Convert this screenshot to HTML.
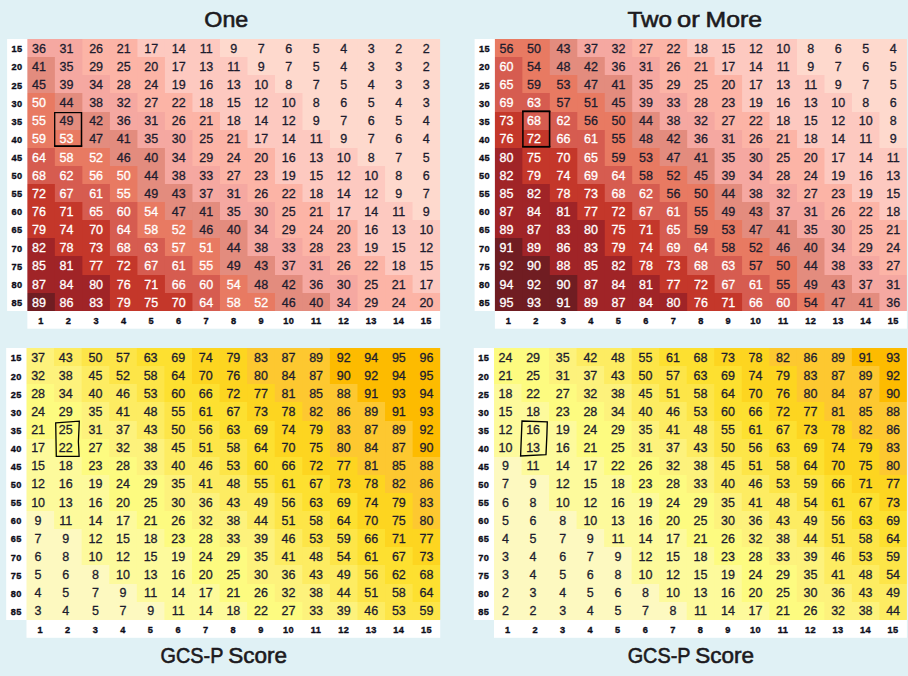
<!DOCTYPE html>
<html><head><meta charset="utf-8"><title>GCS-P Score heatmaps</title>
<style>
html,body{margin:0;padding:0;background:#e0f1f5;}
body{width:908px;height:676px;overflow:hidden;}
svg{display:block;}
text{font-family:"Liberation Sans",sans-serif;}
.n{font-size:12.5px;text-anchor:middle;fill:#1c1c2e;stroke:#1c1c2e;stroke-width:0.3px;}
.w{fill:#fff;stroke:#fff;}
.a{letter-spacing:0.4px;font-size:9.2px;font-weight:bold;text-anchor:middle;fill:#0c0c18;stroke:#0c0c18;stroke-width:0.35px;}
.t{font-size:22.4px;fill:#1c1a20;stroke:#1c1a20;stroke-width:0.6px;}
</style></head><body>
<svg width="908" height="676" viewBox="0 0 908 676">
<rect x="0" y="0" width="908" height="676" fill="#e0f1f5"/>

<rect x="7.1" y="39" width="21.25" height="272" fill="#fff"/>
<rect x="27.35" y="310" width="412.75" height="18.7" fill="#fff"/>
<g>
<rect x="27.35" y="39" width="28.52" height="18" fill="#f5a8a1"/>
<rect x="54.87" y="39" width="28.52" height="18" fill="#f5a8a1"/>
<rect x="82.38" y="39" width="28.52" height="18" fill="#fcb4a6"/>
<rect x="109.9" y="39" width="28.52" height="18" fill="#fcb4a6"/>
<rect x="137.42" y="39" width="28.52" height="18" fill="#fdc9c0"/>
<rect x="164.93" y="39" width="28.52" height="18" fill="#fdc9c0"/>
<rect x="192.45" y="39" width="28.52" height="18" fill="#fdc9c0"/>
<rect x="219.97" y="39" width="28.52" height="18" fill="#fed9cd"/>
<rect x="247.48" y="39" width="28.52" height="18" fill="#fed9cd"/>
<rect x="275" y="39" width="28.52" height="18" fill="#fed9cd"/>
<rect x="302.52" y="39" width="28.52" height="18" fill="#fed9cd"/>
<rect x="330.03" y="39" width="28.52" height="18" fill="#fed9cd"/>
<rect x="357.55" y="39" width="28.52" height="18" fill="#fed9cd"/>
<rect x="385.07" y="39" width="28.52" height="18" fill="#fed9cd"/>
<rect x="412.58" y="39" width="27.52" height="18" fill="#fed9cd"/>
<rect x="27.35" y="57" width="28.52" height="18" fill="#e38c7e"/>
<rect x="54.87" y="57" width="28.52" height="18" fill="#f5a8a1"/>
<rect x="82.38" y="57" width="28.52" height="18" fill="#fcb4a6"/>
<rect x="109.9" y="57" width="28.52" height="18" fill="#fcb4a6"/>
<rect x="137.42" y="57" width="28.52" height="18" fill="#fcb4a6"/>
<rect x="164.93" y="57" width="28.52" height="18" fill="#fdc9c0"/>
<rect x="192.45" y="57" width="28.52" height="18" fill="#fdc9c0"/>
<rect x="219.97" y="57" width="28.52" height="18" fill="#fdc9c0"/>
<rect x="247.48" y="57" width="28.52" height="18" fill="#fed9cd"/>
<rect x="275" y="57" width="28.52" height="18" fill="#fed9cd"/>
<rect x="302.52" y="57" width="28.52" height="18" fill="#fed9cd"/>
<rect x="330.03" y="57" width="28.52" height="18" fill="#fed9cd"/>
<rect x="357.55" y="57" width="28.52" height="18" fill="#fed9cd"/>
<rect x="385.07" y="57" width="28.52" height="18" fill="#fed9cd"/>
<rect x="412.58" y="57" width="27.52" height="18" fill="#fed9cd"/>
<rect x="27.35" y="75" width="28.52" height="18" fill="#e38c7e"/>
<rect x="54.87" y="75" width="28.52" height="18" fill="#f5a8a1"/>
<rect x="82.38" y="75" width="28.52" height="18" fill="#f5a8a1"/>
<rect x="109.9" y="75" width="28.52" height="18" fill="#fcb4a6"/>
<rect x="137.42" y="75" width="28.52" height="18" fill="#fcb4a6"/>
<rect x="164.93" y="75" width="28.52" height="18" fill="#fdc9c0"/>
<rect x="192.45" y="75" width="28.52" height="18" fill="#fdc9c0"/>
<rect x="219.97" y="75" width="28.52" height="18" fill="#fdc9c0"/>
<rect x="247.48" y="75" width="28.52" height="18" fill="#fdc9c0"/>
<rect x="275" y="75" width="28.52" height="18" fill="#fed9cd"/>
<rect x="302.52" y="75" width="28.52" height="18" fill="#fed9cd"/>
<rect x="330.03" y="75" width="28.52" height="18" fill="#fed9cd"/>
<rect x="357.55" y="75" width="28.52" height="18" fill="#fed9cd"/>
<rect x="385.07" y="75" width="28.52" height="18" fill="#fed9cd"/>
<rect x="412.58" y="75" width="27.52" height="18" fill="#fed9cd"/>
<rect x="27.35" y="93" width="28.52" height="19" fill="#e87a62"/>
<rect x="54.87" y="93" width="28.52" height="19" fill="#e38c7e"/>
<rect x="82.38" y="93" width="28.52" height="19" fill="#f5a8a1"/>
<rect x="109.9" y="93" width="28.52" height="19" fill="#f5a8a1"/>
<rect x="137.42" y="93" width="28.52" height="19" fill="#fcb4a6"/>
<rect x="164.93" y="93" width="28.52" height="19" fill="#fcb4a6"/>
<rect x="192.45" y="93" width="28.52" height="19" fill="#fdc9c0"/>
<rect x="219.97" y="93" width="28.52" height="19" fill="#fdc9c0"/>
<rect x="247.48" y="93" width="28.52" height="19" fill="#fdc9c0"/>
<rect x="275" y="93" width="28.52" height="19" fill="#fdc9c0"/>
<rect x="302.52" y="93" width="28.52" height="19" fill="#fed9cd"/>
<rect x="330.03" y="93" width="28.52" height="19" fill="#fed9cd"/>
<rect x="357.55" y="93" width="28.52" height="19" fill="#fed9cd"/>
<rect x="385.07" y="93" width="28.52" height="19" fill="#fed9cd"/>
<rect x="412.58" y="93" width="27.52" height="19" fill="#fed9cd"/>
<rect x="27.35" y="112" width="28.52" height="18" fill="#e87a62"/>
<rect x="54.87" y="112" width="28.52" height="18" fill="#e38c7e"/>
<rect x="82.38" y="112" width="28.52" height="18" fill="#e38c7e"/>
<rect x="109.9" y="112" width="28.52" height="18" fill="#f5a8a1"/>
<rect x="137.42" y="112" width="28.52" height="18" fill="#f5a8a1"/>
<rect x="164.93" y="112" width="28.52" height="18" fill="#fcb4a6"/>
<rect x="192.45" y="112" width="28.52" height="18" fill="#fcb4a6"/>
<rect x="219.97" y="112" width="28.52" height="18" fill="#fdc9c0"/>
<rect x="247.48" y="112" width="28.52" height="18" fill="#fdc9c0"/>
<rect x="275" y="112" width="28.52" height="18" fill="#fdc9c0"/>
<rect x="302.52" y="112" width="28.52" height="18" fill="#fed9cd"/>
<rect x="330.03" y="112" width="28.52" height="18" fill="#fed9cd"/>
<rect x="357.55" y="112" width="28.52" height="18" fill="#fed9cd"/>
<rect x="385.07" y="112" width="28.52" height="18" fill="#fed9cd"/>
<rect x="412.58" y="112" width="27.52" height="18" fill="#fed9cd"/>
<rect x="27.35" y="130" width="28.52" height="18" fill="#e87a62"/>
<rect x="54.87" y="130" width="28.52" height="18" fill="#e87a62"/>
<rect x="82.38" y="130" width="28.52" height="18" fill="#e38c7e"/>
<rect x="109.9" y="130" width="28.52" height="18" fill="#e38c7e"/>
<rect x="137.42" y="130" width="28.52" height="18" fill="#f5a8a1"/>
<rect x="164.93" y="130" width="28.52" height="18" fill="#f5a8a1"/>
<rect x="192.45" y="130" width="28.52" height="18" fill="#fcb4a6"/>
<rect x="219.97" y="130" width="28.52" height="18" fill="#fcb4a6"/>
<rect x="247.48" y="130" width="28.52" height="18" fill="#fdc9c0"/>
<rect x="275" y="130" width="28.52" height="18" fill="#fdc9c0"/>
<rect x="302.52" y="130" width="28.52" height="18" fill="#fdc9c0"/>
<rect x="330.03" y="130" width="28.52" height="18" fill="#fed9cd"/>
<rect x="357.55" y="130" width="28.52" height="18" fill="#fed9cd"/>
<rect x="385.07" y="130" width="28.52" height="18" fill="#fed9cd"/>
<rect x="412.58" y="130" width="27.52" height="18" fill="#fed9cd"/>
<rect x="27.35" y="148" width="28.52" height="18" fill="#d65c50"/>
<rect x="54.87" y="148" width="28.52" height="18" fill="#e87a62"/>
<rect x="82.38" y="148" width="28.52" height="18" fill="#e87a62"/>
<rect x="109.9" y="148" width="28.52" height="18" fill="#e38c7e"/>
<rect x="137.42" y="148" width="28.52" height="18" fill="#e38c7e"/>
<rect x="164.93" y="148" width="28.52" height="18" fill="#f5a8a1"/>
<rect x="192.45" y="148" width="28.52" height="18" fill="#fcb4a6"/>
<rect x="219.97" y="148" width="28.52" height="18" fill="#fcb4a6"/>
<rect x="247.48" y="148" width="28.52" height="18" fill="#fcb4a6"/>
<rect x="275" y="148" width="28.52" height="18" fill="#fdc9c0"/>
<rect x="302.52" y="148" width="28.52" height="18" fill="#fdc9c0"/>
<rect x="330.03" y="148" width="28.52" height="18" fill="#fdc9c0"/>
<rect x="357.55" y="148" width="28.52" height="18" fill="#fed9cd"/>
<rect x="385.07" y="148" width="28.52" height="18" fill="#fed9cd"/>
<rect x="412.58" y="148" width="27.52" height="18" fill="#fed9cd"/>
<rect x="27.35" y="166" width="28.52" height="18" fill="#d65c50"/>
<rect x="54.87" y="166" width="28.52" height="18" fill="#d65c50"/>
<rect x="82.38" y="166" width="28.52" height="18" fill="#e87a62"/>
<rect x="109.9" y="166" width="28.52" height="18" fill="#e87a62"/>
<rect x="137.42" y="166" width="28.52" height="18" fill="#e38c7e"/>
<rect x="164.93" y="166" width="28.52" height="18" fill="#f5a8a1"/>
<rect x="192.45" y="166" width="28.52" height="18" fill="#f5a8a1"/>
<rect x="219.97" y="166" width="28.52" height="18" fill="#fcb4a6"/>
<rect x="247.48" y="166" width="28.52" height="18" fill="#fcb4a6"/>
<rect x="275" y="166" width="28.52" height="18" fill="#fdc9c0"/>
<rect x="302.52" y="166" width="28.52" height="18" fill="#fdc9c0"/>
<rect x="330.03" y="166" width="28.52" height="18" fill="#fdc9c0"/>
<rect x="357.55" y="166" width="28.52" height="18" fill="#fdc9c0"/>
<rect x="385.07" y="166" width="28.52" height="18" fill="#fed9cd"/>
<rect x="412.58" y="166" width="27.52" height="18" fill="#fed9cd"/>
<rect x="27.35" y="184" width="28.52" height="18" fill="#c4372a"/>
<rect x="54.87" y="184" width="28.52" height="18" fill="#d65c50"/>
<rect x="82.38" y="184" width="28.52" height="18" fill="#d65c50"/>
<rect x="109.9" y="184" width="28.52" height="18" fill="#e87a62"/>
<rect x="137.42" y="184" width="28.52" height="18" fill="#e38c7e"/>
<rect x="164.93" y="184" width="28.52" height="18" fill="#e38c7e"/>
<rect x="192.45" y="184" width="28.52" height="18" fill="#f5a8a1"/>
<rect x="219.97" y="184" width="28.52" height="18" fill="#f5a8a1"/>
<rect x="247.48" y="184" width="28.52" height="18" fill="#fcb4a6"/>
<rect x="275" y="184" width="28.52" height="18" fill="#fcb4a6"/>
<rect x="302.52" y="184" width="28.52" height="18" fill="#fdc9c0"/>
<rect x="330.03" y="184" width="28.52" height="18" fill="#fdc9c0"/>
<rect x="357.55" y="184" width="28.52" height="18" fill="#fdc9c0"/>
<rect x="385.07" y="184" width="28.52" height="18" fill="#fed9cd"/>
<rect x="412.58" y="184" width="27.52" height="18" fill="#fed9cd"/>
<rect x="27.35" y="202" width="28.52" height="18" fill="#c4372a"/>
<rect x="54.87" y="202" width="28.52" height="18" fill="#c4372a"/>
<rect x="82.38" y="202" width="28.52" height="18" fill="#d65c50"/>
<rect x="109.9" y="202" width="28.52" height="18" fill="#d65c50"/>
<rect x="137.42" y="202" width="28.52" height="18" fill="#e87a62"/>
<rect x="164.93" y="202" width="28.52" height="18" fill="#e38c7e"/>
<rect x="192.45" y="202" width="28.52" height="18" fill="#e38c7e"/>
<rect x="219.97" y="202" width="28.52" height="18" fill="#f5a8a1"/>
<rect x="247.48" y="202" width="28.52" height="18" fill="#f5a8a1"/>
<rect x="275" y="202" width="28.52" height="18" fill="#fcb4a6"/>
<rect x="302.52" y="202" width="28.52" height="18" fill="#fcb4a6"/>
<rect x="330.03" y="202" width="28.52" height="18" fill="#fdc9c0"/>
<rect x="357.55" y="202" width="28.52" height="18" fill="#fdc9c0"/>
<rect x="385.07" y="202" width="28.52" height="18" fill="#fdc9c0"/>
<rect x="412.58" y="202" width="27.52" height="18" fill="#fed9cd"/>
<rect x="27.35" y="220" width="28.52" height="18" fill="#c4372a"/>
<rect x="54.87" y="220" width="28.52" height="18" fill="#c4372a"/>
<rect x="82.38" y="220" width="28.52" height="18" fill="#c4372a"/>
<rect x="109.9" y="220" width="28.52" height="18" fill="#d65c50"/>
<rect x="137.42" y="220" width="28.52" height="18" fill="#e87a62"/>
<rect x="164.93" y="220" width="28.52" height="18" fill="#e87a62"/>
<rect x="192.45" y="220" width="28.52" height="18" fill="#e38c7e"/>
<rect x="219.97" y="220" width="28.52" height="18" fill="#e38c7e"/>
<rect x="247.48" y="220" width="28.52" height="18" fill="#f5a8a1"/>
<rect x="275" y="220" width="28.52" height="18" fill="#fcb4a6"/>
<rect x="302.52" y="220" width="28.52" height="18" fill="#fcb4a6"/>
<rect x="330.03" y="220" width="28.52" height="18" fill="#fcb4a6"/>
<rect x="357.55" y="220" width="28.52" height="18" fill="#fdc9c0"/>
<rect x="385.07" y="220" width="28.52" height="18" fill="#fdc9c0"/>
<rect x="412.58" y="220" width="27.52" height="18" fill="#fdc9c0"/>
<rect x="27.35" y="238" width="28.52" height="18" fill="#a02427"/>
<rect x="54.87" y="238" width="28.52" height="18" fill="#c4372a"/>
<rect x="82.38" y="238" width="28.52" height="18" fill="#c4372a"/>
<rect x="109.9" y="238" width="28.52" height="18" fill="#d65c50"/>
<rect x="137.42" y="238" width="28.52" height="18" fill="#d65c50"/>
<rect x="164.93" y="238" width="28.52" height="18" fill="#e87a62"/>
<rect x="192.45" y="238" width="28.52" height="18" fill="#e87a62"/>
<rect x="219.97" y="238" width="28.52" height="18" fill="#e38c7e"/>
<rect x="247.48" y="238" width="28.52" height="18" fill="#f5a8a1"/>
<rect x="275" y="238" width="28.52" height="18" fill="#f5a8a1"/>
<rect x="302.52" y="238" width="28.52" height="18" fill="#fcb4a6"/>
<rect x="330.03" y="238" width="28.52" height="18" fill="#fcb4a6"/>
<rect x="357.55" y="238" width="28.52" height="18" fill="#fdc9c0"/>
<rect x="385.07" y="238" width="28.52" height="18" fill="#fdc9c0"/>
<rect x="412.58" y="238" width="27.52" height="18" fill="#fdc9c0"/>
<rect x="27.35" y="256" width="28.52" height="19" fill="#a02427"/>
<rect x="54.87" y="256" width="28.52" height="19" fill="#a02427"/>
<rect x="82.38" y="256" width="28.52" height="19" fill="#c4372a"/>
<rect x="109.9" y="256" width="28.52" height="19" fill="#c4372a"/>
<rect x="137.42" y="256" width="28.52" height="19" fill="#d65c50"/>
<rect x="164.93" y="256" width="28.52" height="19" fill="#d65c50"/>
<rect x="192.45" y="256" width="28.52" height="19" fill="#e87a62"/>
<rect x="219.97" y="256" width="28.52" height="19" fill="#e38c7e"/>
<rect x="247.48" y="256" width="28.52" height="19" fill="#e38c7e"/>
<rect x="275" y="256" width="28.52" height="19" fill="#f5a8a1"/>
<rect x="302.52" y="256" width="28.52" height="19" fill="#f5a8a1"/>
<rect x="330.03" y="256" width="28.52" height="19" fill="#fcb4a6"/>
<rect x="357.55" y="256" width="28.52" height="19" fill="#fcb4a6"/>
<rect x="385.07" y="256" width="28.52" height="19" fill="#fdc9c0"/>
<rect x="412.58" y="256" width="27.52" height="19" fill="#fdc9c0"/>
<rect x="27.35" y="275" width="28.52" height="18" fill="#a02427"/>
<rect x="54.87" y="275" width="28.52" height="18" fill="#a02427"/>
<rect x="82.38" y="275" width="28.52" height="18" fill="#a02427"/>
<rect x="109.9" y="275" width="28.52" height="18" fill="#c4372a"/>
<rect x="137.42" y="275" width="28.52" height="18" fill="#c4372a"/>
<rect x="164.93" y="275" width="28.52" height="18" fill="#d65c50"/>
<rect x="192.45" y="275" width="28.52" height="18" fill="#d65c50"/>
<rect x="219.97" y="275" width="28.52" height="18" fill="#e87a62"/>
<rect x="247.48" y="275" width="28.52" height="18" fill="#e38c7e"/>
<rect x="275" y="275" width="28.52" height="18" fill="#e38c7e"/>
<rect x="302.52" y="275" width="28.52" height="18" fill="#f5a8a1"/>
<rect x="330.03" y="275" width="28.52" height="18" fill="#f5a8a1"/>
<rect x="357.55" y="275" width="28.52" height="18" fill="#fcb4a6"/>
<rect x="385.07" y="275" width="28.52" height="18" fill="#fcb4a6"/>
<rect x="412.58" y="275" width="27.52" height="18" fill="#fdc9c0"/>
<rect x="27.35" y="293" width="28.52" height="18" fill="#701d22"/>
<rect x="54.87" y="293" width="28.52" height="18" fill="#a02427"/>
<rect x="82.38" y="293" width="28.52" height="18" fill="#a02427"/>
<rect x="109.9" y="293" width="28.52" height="18" fill="#c4372a"/>
<rect x="137.42" y="293" width="28.52" height="18" fill="#c4372a"/>
<rect x="164.93" y="293" width="28.52" height="18" fill="#c4372a"/>
<rect x="192.45" y="293" width="28.52" height="18" fill="#d65c50"/>
<rect x="219.97" y="293" width="28.52" height="18" fill="#e87a62"/>
<rect x="247.48" y="293" width="28.52" height="18" fill="#e87a62"/>
<rect x="275" y="293" width="28.52" height="18" fill="#e38c7e"/>
<rect x="302.52" y="293" width="28.52" height="18" fill="#e38c7e"/>
<rect x="330.03" y="293" width="28.52" height="18" fill="#f5a8a1"/>
<rect x="357.55" y="293" width="28.52" height="18" fill="#fcb4a6"/>
<rect x="385.07" y="293" width="28.52" height="18" fill="#fcb4a6"/>
<rect x="412.58" y="293" width="27.52" height="18" fill="#fcb4a6"/>
</g>
<text class="a" x="17.05" y="52.36">15</text>
<text class="n" x="38.91" y="52.66">36</text>
<text class="n" x="66.42" y="52.66">31</text>
<text class="n" x="96.14" y="52.66">26</text>
<text class="n" x="123.66" y="52.66">21</text>
<text class="n" x="151.17" y="52.66">17</text>
<text class="n" x="178.69" y="52.66">14</text>
<text class="n" x="206.21" y="52.66">11</text>
<text class="n" x="233.72" y="52.66">9</text>
<text class="n" x="261.24" y="52.66">7</text>
<text class="n" x="288.76" y="52.66">6</text>
<text class="n" x="316.28" y="52.66">5</text>
<text class="n" x="343.79" y="52.66">4</text>
<text class="n" x="371.31" y="52.66">3</text>
<text class="n" x="398.82" y="52.66">2</text>
<text class="n" x="426.34" y="52.66">2</text>
<text class="a" x="17.05" y="70.47">20</text>
<text class="n" x="38.91" y="70.8">41</text>
<text class="n" x="66.42" y="70.8">35</text>
<text class="n" x="96.14" y="70.8">29</text>
<text class="n" x="123.66" y="70.8">25</text>
<text class="n" x="151.17" y="70.8">20</text>
<text class="n" x="178.69" y="70.8">17</text>
<text class="n" x="206.21" y="70.8">13</text>
<text class="n" x="233.72" y="70.8">11</text>
<text class="n" x="261.24" y="70.8">9</text>
<text class="n" x="288.76" y="70.8">7</text>
<text class="n" x="316.28" y="70.8">5</text>
<text class="n" x="343.79" y="70.8">4</text>
<text class="n" x="371.31" y="70.8">3</text>
<text class="n" x="398.82" y="70.8">3</text>
<text class="n" x="426.34" y="70.8">2</text>
<text class="a" x="17.05" y="88.58">25</text>
<text class="n" x="38.91" y="88.94">45</text>
<text class="n" x="66.42" y="88.94">39</text>
<text class="n" x="96.14" y="88.94">34</text>
<text class="n" x="123.66" y="88.94">28</text>
<text class="n" x="151.17" y="88.94">24</text>
<text class="n" x="178.69" y="88.94">19</text>
<text class="n" x="206.21" y="88.94">16</text>
<text class="n" x="233.72" y="88.94">13</text>
<text class="n" x="261.24" y="88.94">10</text>
<text class="n" x="288.76" y="88.94">8</text>
<text class="n" x="316.28" y="88.94">7</text>
<text class="n" x="343.79" y="88.94">5</text>
<text class="n" x="371.31" y="88.94">4</text>
<text class="n" x="398.82" y="88.94">3</text>
<text class="n" x="426.34" y="88.94">3</text>
<text class="a" x="17.05" y="106.7">30</text>
<text class="n w" x="38.91" y="107.09">50</text>
<text class="n" x="66.42" y="107.09">44</text>
<text class="n" x="96.14" y="107.09">38</text>
<text class="n" x="123.66" y="107.09">32</text>
<text class="n" x="151.17" y="107.09">27</text>
<text class="n" x="178.69" y="107.09">22</text>
<text class="n" x="206.21" y="107.09">18</text>
<text class="n" x="233.72" y="107.09">15</text>
<text class="n" x="261.24" y="107.09">12</text>
<text class="n" x="288.76" y="107.09">10</text>
<text class="n" x="316.28" y="107.09">8</text>
<text class="n" x="343.79" y="107.09">6</text>
<text class="n" x="371.31" y="107.09">5</text>
<text class="n" x="398.82" y="107.09">4</text>
<text class="n" x="426.34" y="107.09">3</text>
<text class="a" x="17.05" y="124.81">35</text>
<text class="n w" x="38.91" y="125.23">55</text>
<text class="n" x="66.42" y="125.23">49</text>
<text class="n" x="96.14" y="125.23">42</text>
<text class="n" x="123.66" y="125.23">36</text>
<text class="n" x="151.17" y="125.23">31</text>
<text class="n" x="178.69" y="125.23">26</text>
<text class="n" x="206.21" y="125.23">21</text>
<text class="n" x="233.72" y="125.23">18</text>
<text class="n" x="261.24" y="125.23">14</text>
<text class="n" x="288.76" y="125.23">12</text>
<text class="n" x="316.28" y="125.23">9</text>
<text class="n" x="343.79" y="125.23">7</text>
<text class="n" x="371.31" y="125.23">6</text>
<text class="n" x="398.82" y="125.23">5</text>
<text class="n" x="426.34" y="125.23">4</text>
<text class="a" x="17.05" y="142.92">40</text>
<text class="n w" x="38.91" y="143.37">59</text>
<text class="n w" x="66.42" y="143.37">53</text>
<text class="n" x="96.14" y="143.37">47</text>
<text class="n" x="123.66" y="143.37">41</text>
<text class="n" x="151.17" y="143.37">35</text>
<text class="n" x="178.69" y="143.37">30</text>
<text class="n" x="206.21" y="143.37">25</text>
<text class="n" x="233.72" y="143.37">21</text>
<text class="n" x="261.24" y="143.37">17</text>
<text class="n" x="288.76" y="143.37">14</text>
<text class="n" x="316.28" y="143.37">11</text>
<text class="n" x="343.79" y="143.37">9</text>
<text class="n" x="371.31" y="143.37">7</text>
<text class="n" x="398.82" y="143.37">6</text>
<text class="n" x="426.34" y="143.37">4</text>
<text class="a" x="17.05" y="161.04">45</text>
<text class="n w" x="38.91" y="161.52">64</text>
<text class="n w" x="66.42" y="161.52">58</text>
<text class="n w" x="96.14" y="161.52">52</text>
<text class="n" x="123.66" y="161.52">46</text>
<text class="n" x="151.17" y="161.52">40</text>
<text class="n" x="178.69" y="161.52">34</text>
<text class="n" x="206.21" y="161.52">29</text>
<text class="n" x="233.72" y="161.52">24</text>
<text class="n" x="261.24" y="161.52">20</text>
<text class="n" x="288.76" y="161.52">16</text>
<text class="n" x="316.28" y="161.52">13</text>
<text class="n" x="343.79" y="161.52">10</text>
<text class="n" x="371.31" y="161.52">8</text>
<text class="n" x="398.82" y="161.52">7</text>
<text class="n" x="426.34" y="161.52">5</text>
<text class="a" x="17.05" y="179.15">50</text>
<text class="n w" x="38.91" y="179.66">68</text>
<text class="n w" x="66.42" y="179.66">62</text>
<text class="n w" x="96.14" y="179.66">56</text>
<text class="n w" x="123.66" y="179.66">50</text>
<text class="n" x="151.17" y="179.66">44</text>
<text class="n" x="178.69" y="179.66">38</text>
<text class="n" x="206.21" y="179.66">33</text>
<text class="n" x="233.72" y="179.66">27</text>
<text class="n" x="261.24" y="179.66">23</text>
<text class="n" x="288.76" y="179.66">19</text>
<text class="n" x="316.28" y="179.66">15</text>
<text class="n" x="343.79" y="179.66">12</text>
<text class="n" x="371.31" y="179.66">10</text>
<text class="n" x="398.82" y="179.66">8</text>
<text class="n" x="426.34" y="179.66">6</text>
<text class="a" x="17.05" y="197.26">55</text>
<text class="n w" x="38.91" y="197.8">72</text>
<text class="n w" x="66.42" y="197.8">67</text>
<text class="n w" x="96.14" y="197.8">61</text>
<text class="n w" x="123.66" y="197.8">55</text>
<text class="n" x="151.17" y="197.8">49</text>
<text class="n" x="178.69" y="197.8">43</text>
<text class="n" x="206.21" y="197.8">37</text>
<text class="n" x="233.72" y="197.8">31</text>
<text class="n" x="261.24" y="197.8">26</text>
<text class="n" x="288.76" y="197.8">22</text>
<text class="n" x="316.28" y="197.8">18</text>
<text class="n" x="343.79" y="197.8">14</text>
<text class="n" x="371.31" y="197.8">12</text>
<text class="n" x="398.82" y="197.8">9</text>
<text class="n" x="426.34" y="197.8">7</text>
<text class="a" x="17.05" y="215.38">60</text>
<text class="n w" x="38.91" y="215.95">76</text>
<text class="n w" x="66.42" y="215.95">71</text>
<text class="n w" x="96.14" y="215.95">65</text>
<text class="n w" x="123.66" y="215.95">60</text>
<text class="n w" x="151.17" y="215.95">54</text>
<text class="n" x="178.69" y="215.95">47</text>
<text class="n" x="206.21" y="215.95">41</text>
<text class="n" x="233.72" y="215.95">35</text>
<text class="n" x="261.24" y="215.95">30</text>
<text class="n" x="288.76" y="215.95">25</text>
<text class="n" x="316.28" y="215.95">21</text>
<text class="n" x="343.79" y="215.95">17</text>
<text class="n" x="371.31" y="215.95">14</text>
<text class="n" x="398.82" y="215.95">11</text>
<text class="n" x="426.34" y="215.95">9</text>
<text class="a" x="17.05" y="233.49">65</text>
<text class="n w" x="38.91" y="234.09">79</text>
<text class="n w" x="66.42" y="234.09">74</text>
<text class="n w" x="96.14" y="234.09">70</text>
<text class="n w" x="123.66" y="234.09">64</text>
<text class="n w" x="151.17" y="234.09">58</text>
<text class="n w" x="178.69" y="234.09">52</text>
<text class="n" x="206.21" y="234.09">46</text>
<text class="n" x="233.72" y="234.09">40</text>
<text class="n" x="261.24" y="234.09">34</text>
<text class="n" x="288.76" y="234.09">29</text>
<text class="n" x="316.28" y="234.09">24</text>
<text class="n" x="343.79" y="234.09">20</text>
<text class="n" x="371.31" y="234.09">16</text>
<text class="n" x="398.82" y="234.09">13</text>
<text class="n" x="426.34" y="234.09">10</text>
<text class="a" x="17.05" y="251.6">70</text>
<text class="n w" x="38.91" y="252.23">82</text>
<text class="n w" x="66.42" y="252.23">78</text>
<text class="n w" x="96.14" y="252.23">73</text>
<text class="n w" x="123.66" y="252.23">68</text>
<text class="n w" x="151.17" y="252.23">63</text>
<text class="n w" x="178.69" y="252.23">57</text>
<text class="n w" x="206.21" y="252.23">51</text>
<text class="n" x="233.72" y="252.23">44</text>
<text class="n" x="261.24" y="252.23">38</text>
<text class="n" x="288.76" y="252.23">33</text>
<text class="n" x="316.28" y="252.23">28</text>
<text class="n" x="343.79" y="252.23">23</text>
<text class="n" x="371.31" y="252.23">19</text>
<text class="n" x="398.82" y="252.23">15</text>
<text class="n" x="426.34" y="252.23">12</text>
<text class="a" x="17.05" y="269.72">75</text>
<text class="n w" x="38.91" y="270.38">85</text>
<text class="n w" x="66.42" y="270.38">81</text>
<text class="n w" x="96.14" y="270.38">77</text>
<text class="n w" x="123.66" y="270.38">72</text>
<text class="n w" x="151.17" y="270.38">67</text>
<text class="n w" x="178.69" y="270.38">61</text>
<text class="n w" x="206.21" y="270.38">55</text>
<text class="n" x="233.72" y="270.38">49</text>
<text class="n" x="261.24" y="270.38">43</text>
<text class="n" x="288.76" y="270.38">37</text>
<text class="n" x="316.28" y="270.38">31</text>
<text class="n" x="343.79" y="270.38">26</text>
<text class="n" x="371.31" y="270.38">22</text>
<text class="n" x="398.82" y="270.38">18</text>
<text class="n" x="426.34" y="270.38">15</text>
<text class="a" x="17.05" y="287.83">80</text>
<text class="n w" x="38.91" y="288.52">87</text>
<text class="n w" x="66.42" y="288.52">84</text>
<text class="n w" x="96.14" y="288.52">80</text>
<text class="n w" x="123.66" y="288.52">76</text>
<text class="n w" x="151.17" y="288.52">71</text>
<text class="n w" x="178.69" y="288.52">66</text>
<text class="n w" x="206.21" y="288.52">60</text>
<text class="n w" x="233.72" y="288.52">54</text>
<text class="n" x="261.24" y="288.52">48</text>
<text class="n" x="288.76" y="288.52">42</text>
<text class="n" x="316.28" y="288.52">36</text>
<text class="n" x="343.79" y="288.52">30</text>
<text class="n" x="371.31" y="288.52">25</text>
<text class="n" x="398.82" y="288.52">21</text>
<text class="n" x="426.34" y="288.52">17</text>
<text class="a" x="17.05" y="305.94">85</text>
<text class="n w" x="38.91" y="306.66">89</text>
<text class="n w" x="66.42" y="306.66">86</text>
<text class="n w" x="96.14" y="306.66">83</text>
<text class="n w" x="123.66" y="306.66">79</text>
<text class="n w" x="151.17" y="306.66">75</text>
<text class="n w" x="178.69" y="306.66">70</text>
<text class="n w" x="206.21" y="306.66">64</text>
<text class="n w" x="233.72" y="306.66">58</text>
<text class="n w" x="261.24" y="306.66">52</text>
<text class="n" x="288.76" y="306.66">46</text>
<text class="n" x="316.28" y="306.66">40</text>
<text class="n" x="343.79" y="306.66">34</text>
<text class="n" x="371.31" y="306.66">29</text>
<text class="n" x="398.82" y="306.66">24</text>
<text class="n" x="426.34" y="306.66">20</text>
<text class="a" x="41.11" y="323.8">1</text>
<text class="a" x="68.62" y="323.8">2</text>
<text class="a" x="96.14" y="323.8">3</text>
<text class="a" x="123.66" y="323.8">4</text>
<text class="a" x="151.17" y="323.8">5</text>
<text class="a" x="178.69" y="323.8">6</text>
<text class="a" x="206.21" y="323.8">7</text>
<text class="a" x="233.72" y="323.8">8</text>
<text class="a" x="261.24" y="323.8">9</text>
<text class="a" x="288.76" y="323.8">10</text>
<text class="a" x="316.28" y="323.8">11</text>
<text class="a" x="343.79" y="323.8">12</text>
<text class="a" x="371.31" y="323.8">13</text>
<text class="a" x="398.82" y="323.8">14</text>
<text class="a" x="426.34" y="323.8">15</text>
<g fill="none" stroke="#000" stroke-linejoin="miter"><path d="M54.7 112.6H81.6" stroke-width="1.2"/><path d="M54.7 112V146.6" stroke-width="1.3"/><path d="M81.5 112V146.6" stroke-width="1.5"/><path d="M54.1 146.1H82.2" stroke-width="1.8"/></g>
<rect x="474.6" y="39" width="21.3" height="272" fill="#fff"/>
<rect x="494.9" y="310" width="412" height="18.7" fill="#fff"/>
<g>
<rect x="494.9" y="39" width="28.47" height="18" fill="#e87a62"/>
<rect x="522.37" y="39" width="28.47" height="18" fill="#e87a62"/>
<rect x="549.83" y="39" width="28.47" height="18" fill="#e38c7e"/>
<rect x="577.3" y="39" width="28.47" height="18" fill="#f5a8a1"/>
<rect x="604.77" y="39" width="28.47" height="18" fill="#f5a8a1"/>
<rect x="632.23" y="39" width="28.47" height="18" fill="#fcb4a6"/>
<rect x="659.7" y="39" width="28.47" height="18" fill="#fcb4a6"/>
<rect x="687.17" y="39" width="28.47" height="18" fill="#fdc9c0"/>
<rect x="714.63" y="39" width="28.47" height="18" fill="#fdc9c0"/>
<rect x="742.1" y="39" width="28.47" height="18" fill="#fdc9c0"/>
<rect x="769.57" y="39" width="28.47" height="18" fill="#fdc9c0"/>
<rect x="797.03" y="39" width="28.47" height="18" fill="#fed9cd"/>
<rect x="824.5" y="39" width="28.47" height="18" fill="#fed9cd"/>
<rect x="851.97" y="39" width="28.47" height="18" fill="#fed9cd"/>
<rect x="879.43" y="39" width="27.47" height="18" fill="#fed9cd"/>
<rect x="494.9" y="57" width="28.47" height="18" fill="#d65c50"/>
<rect x="522.37" y="57" width="28.47" height="18" fill="#e87a62"/>
<rect x="549.83" y="57" width="28.47" height="18" fill="#e38c7e"/>
<rect x="577.3" y="57" width="28.47" height="18" fill="#e38c7e"/>
<rect x="604.77" y="57" width="28.47" height="18" fill="#f5a8a1"/>
<rect x="632.23" y="57" width="28.47" height="18" fill="#f5a8a1"/>
<rect x="659.7" y="57" width="28.47" height="18" fill="#fcb4a6"/>
<rect x="687.17" y="57" width="28.47" height="18" fill="#fcb4a6"/>
<rect x="714.63" y="57" width="28.47" height="18" fill="#fdc9c0"/>
<rect x="742.1" y="57" width="28.47" height="18" fill="#fdc9c0"/>
<rect x="769.57" y="57" width="28.47" height="18" fill="#fdc9c0"/>
<rect x="797.03" y="57" width="28.47" height="18" fill="#fed9cd"/>
<rect x="824.5" y="57" width="28.47" height="18" fill="#fed9cd"/>
<rect x="851.97" y="57" width="28.47" height="18" fill="#fed9cd"/>
<rect x="879.43" y="57" width="27.47" height="18" fill="#fed9cd"/>
<rect x="494.9" y="75" width="28.47" height="18" fill="#d65c50"/>
<rect x="522.37" y="75" width="28.47" height="18" fill="#e87a62"/>
<rect x="549.83" y="75" width="28.47" height="18" fill="#e87a62"/>
<rect x="577.3" y="75" width="28.47" height="18" fill="#e38c7e"/>
<rect x="604.77" y="75" width="28.47" height="18" fill="#e38c7e"/>
<rect x="632.23" y="75" width="28.47" height="18" fill="#f5a8a1"/>
<rect x="659.7" y="75" width="28.47" height="18" fill="#fcb4a6"/>
<rect x="687.17" y="75" width="28.47" height="18" fill="#fcb4a6"/>
<rect x="714.63" y="75" width="28.47" height="18" fill="#fcb4a6"/>
<rect x="742.1" y="75" width="28.47" height="18" fill="#fdc9c0"/>
<rect x="769.57" y="75" width="28.47" height="18" fill="#fdc9c0"/>
<rect x="797.03" y="75" width="28.47" height="18" fill="#fdc9c0"/>
<rect x="824.5" y="75" width="28.47" height="18" fill="#fed9cd"/>
<rect x="851.97" y="75" width="28.47" height="18" fill="#fed9cd"/>
<rect x="879.43" y="75" width="27.47" height="18" fill="#fed9cd"/>
<rect x="494.9" y="93" width="28.47" height="19" fill="#d65c50"/>
<rect x="522.37" y="93" width="28.47" height="19" fill="#d65c50"/>
<rect x="549.83" y="93" width="28.47" height="19" fill="#e87a62"/>
<rect x="577.3" y="93" width="28.47" height="19" fill="#e87a62"/>
<rect x="604.77" y="93" width="28.47" height="19" fill="#e38c7e"/>
<rect x="632.23" y="93" width="28.47" height="19" fill="#f5a8a1"/>
<rect x="659.7" y="93" width="28.47" height="19" fill="#f5a8a1"/>
<rect x="687.17" y="93" width="28.47" height="19" fill="#fcb4a6"/>
<rect x="714.63" y="93" width="28.47" height="19" fill="#fcb4a6"/>
<rect x="742.1" y="93" width="28.47" height="19" fill="#fdc9c0"/>
<rect x="769.57" y="93" width="28.47" height="19" fill="#fdc9c0"/>
<rect x="797.03" y="93" width="28.47" height="19" fill="#fdc9c0"/>
<rect x="824.5" y="93" width="28.47" height="19" fill="#fdc9c0"/>
<rect x="851.97" y="93" width="28.47" height="19" fill="#fed9cd"/>
<rect x="879.43" y="93" width="27.47" height="19" fill="#fed9cd"/>
<rect x="494.9" y="112" width="28.47" height="18" fill="#c4372a"/>
<rect x="522.37" y="112" width="28.47" height="18" fill="#d65c50"/>
<rect x="549.83" y="112" width="28.47" height="18" fill="#d65c50"/>
<rect x="577.3" y="112" width="28.47" height="18" fill="#e87a62"/>
<rect x="604.77" y="112" width="28.47" height="18" fill="#e87a62"/>
<rect x="632.23" y="112" width="28.47" height="18" fill="#e38c7e"/>
<rect x="659.7" y="112" width="28.47" height="18" fill="#f5a8a1"/>
<rect x="687.17" y="112" width="28.47" height="18" fill="#f5a8a1"/>
<rect x="714.63" y="112" width="28.47" height="18" fill="#fcb4a6"/>
<rect x="742.1" y="112" width="28.47" height="18" fill="#fcb4a6"/>
<rect x="769.57" y="112" width="28.47" height="18" fill="#fdc9c0"/>
<rect x="797.03" y="112" width="28.47" height="18" fill="#fdc9c0"/>
<rect x="824.5" y="112" width="28.47" height="18" fill="#fdc9c0"/>
<rect x="851.97" y="112" width="28.47" height="18" fill="#fdc9c0"/>
<rect x="879.43" y="112" width="27.47" height="18" fill="#fed9cd"/>
<rect x="494.9" y="130" width="28.47" height="18" fill="#c4372a"/>
<rect x="522.37" y="130" width="28.47" height="18" fill="#c4372a"/>
<rect x="549.83" y="130" width="28.47" height="18" fill="#d65c50"/>
<rect x="577.3" y="130" width="28.47" height="18" fill="#d65c50"/>
<rect x="604.77" y="130" width="28.47" height="18" fill="#e87a62"/>
<rect x="632.23" y="130" width="28.47" height="18" fill="#e38c7e"/>
<rect x="659.7" y="130" width="28.47" height="18" fill="#e38c7e"/>
<rect x="687.17" y="130" width="28.47" height="18" fill="#f5a8a1"/>
<rect x="714.63" y="130" width="28.47" height="18" fill="#f5a8a1"/>
<rect x="742.1" y="130" width="28.47" height="18" fill="#fcb4a6"/>
<rect x="769.57" y="130" width="28.47" height="18" fill="#fcb4a6"/>
<rect x="797.03" y="130" width="28.47" height="18" fill="#fdc9c0"/>
<rect x="824.5" y="130" width="28.47" height="18" fill="#fdc9c0"/>
<rect x="851.97" y="130" width="28.47" height="18" fill="#fdc9c0"/>
<rect x="879.43" y="130" width="27.47" height="18" fill="#fed9cd"/>
<rect x="494.9" y="148" width="28.47" height="18" fill="#a02427"/>
<rect x="522.37" y="148" width="28.47" height="18" fill="#c4372a"/>
<rect x="549.83" y="148" width="28.47" height="18" fill="#c4372a"/>
<rect x="577.3" y="148" width="28.47" height="18" fill="#d65c50"/>
<rect x="604.77" y="148" width="28.47" height="18" fill="#e87a62"/>
<rect x="632.23" y="148" width="28.47" height="18" fill="#e87a62"/>
<rect x="659.7" y="148" width="28.47" height="18" fill="#e38c7e"/>
<rect x="687.17" y="148" width="28.47" height="18" fill="#e38c7e"/>
<rect x="714.63" y="148" width="28.47" height="18" fill="#f5a8a1"/>
<rect x="742.1" y="148" width="28.47" height="18" fill="#f5a8a1"/>
<rect x="769.57" y="148" width="28.47" height="18" fill="#fcb4a6"/>
<rect x="797.03" y="148" width="28.47" height="18" fill="#fcb4a6"/>
<rect x="824.5" y="148" width="28.47" height="18" fill="#fdc9c0"/>
<rect x="851.97" y="148" width="28.47" height="18" fill="#fdc9c0"/>
<rect x="879.43" y="148" width="27.47" height="18" fill="#fdc9c0"/>
<rect x="494.9" y="166" width="28.47" height="18" fill="#a02427"/>
<rect x="522.37" y="166" width="28.47" height="18" fill="#c4372a"/>
<rect x="549.83" y="166" width="28.47" height="18" fill="#c4372a"/>
<rect x="577.3" y="166" width="28.47" height="18" fill="#d65c50"/>
<rect x="604.77" y="166" width="28.47" height="18" fill="#d65c50"/>
<rect x="632.23" y="166" width="28.47" height="18" fill="#e87a62"/>
<rect x="659.7" y="166" width="28.47" height="18" fill="#e87a62"/>
<rect x="687.17" y="166" width="28.47" height="18" fill="#e38c7e"/>
<rect x="714.63" y="166" width="28.47" height="18" fill="#f5a8a1"/>
<rect x="742.1" y="166" width="28.47" height="18" fill="#f5a8a1"/>
<rect x="769.57" y="166" width="28.47" height="18" fill="#fcb4a6"/>
<rect x="797.03" y="166" width="28.47" height="18" fill="#fcb4a6"/>
<rect x="824.5" y="166" width="28.47" height="18" fill="#fdc9c0"/>
<rect x="851.97" y="166" width="28.47" height="18" fill="#fdc9c0"/>
<rect x="879.43" y="166" width="27.47" height="18" fill="#fdc9c0"/>
<rect x="494.9" y="184" width="28.47" height="18" fill="#a02427"/>
<rect x="522.37" y="184" width="28.47" height="18" fill="#a02427"/>
<rect x="549.83" y="184" width="28.47" height="18" fill="#c4372a"/>
<rect x="577.3" y="184" width="28.47" height="18" fill="#c4372a"/>
<rect x="604.77" y="184" width="28.47" height="18" fill="#d65c50"/>
<rect x="632.23" y="184" width="28.47" height="18" fill="#d65c50"/>
<rect x="659.7" y="184" width="28.47" height="18" fill="#e87a62"/>
<rect x="687.17" y="184" width="28.47" height="18" fill="#e87a62"/>
<rect x="714.63" y="184" width="28.47" height="18" fill="#e38c7e"/>
<rect x="742.1" y="184" width="28.47" height="18" fill="#f5a8a1"/>
<rect x="769.57" y="184" width="28.47" height="18" fill="#f5a8a1"/>
<rect x="797.03" y="184" width="28.47" height="18" fill="#fcb4a6"/>
<rect x="824.5" y="184" width="28.47" height="18" fill="#fcb4a6"/>
<rect x="851.97" y="184" width="28.47" height="18" fill="#fdc9c0"/>
<rect x="879.43" y="184" width="27.47" height="18" fill="#fdc9c0"/>
<rect x="494.9" y="202" width="28.47" height="18" fill="#a02427"/>
<rect x="522.37" y="202" width="28.47" height="18" fill="#a02427"/>
<rect x="549.83" y="202" width="28.47" height="18" fill="#a02427"/>
<rect x="577.3" y="202" width="28.47" height="18" fill="#c4372a"/>
<rect x="604.77" y="202" width="28.47" height="18" fill="#c4372a"/>
<rect x="632.23" y="202" width="28.47" height="18" fill="#d65c50"/>
<rect x="659.7" y="202" width="28.47" height="18" fill="#d65c50"/>
<rect x="687.17" y="202" width="28.47" height="18" fill="#e87a62"/>
<rect x="714.63" y="202" width="28.47" height="18" fill="#e38c7e"/>
<rect x="742.1" y="202" width="28.47" height="18" fill="#e38c7e"/>
<rect x="769.57" y="202" width="28.47" height="18" fill="#f5a8a1"/>
<rect x="797.03" y="202" width="28.47" height="18" fill="#f5a8a1"/>
<rect x="824.5" y="202" width="28.47" height="18" fill="#fcb4a6"/>
<rect x="851.97" y="202" width="28.47" height="18" fill="#fcb4a6"/>
<rect x="879.43" y="202" width="27.47" height="18" fill="#fdc9c0"/>
<rect x="494.9" y="220" width="28.47" height="18" fill="#a02427"/>
<rect x="522.37" y="220" width="28.47" height="18" fill="#a02427"/>
<rect x="549.83" y="220" width="28.47" height="18" fill="#a02427"/>
<rect x="577.3" y="220" width="28.47" height="18" fill="#a02427"/>
<rect x="604.77" y="220" width="28.47" height="18" fill="#c4372a"/>
<rect x="632.23" y="220" width="28.47" height="18" fill="#c4372a"/>
<rect x="659.7" y="220" width="28.47" height="18" fill="#d65c50"/>
<rect x="687.17" y="220" width="28.47" height="18" fill="#e87a62"/>
<rect x="714.63" y="220" width="28.47" height="18" fill="#e87a62"/>
<rect x="742.1" y="220" width="28.47" height="18" fill="#e38c7e"/>
<rect x="769.57" y="220" width="28.47" height="18" fill="#e38c7e"/>
<rect x="797.03" y="220" width="28.47" height="18" fill="#f5a8a1"/>
<rect x="824.5" y="220" width="28.47" height="18" fill="#f5a8a1"/>
<rect x="851.97" y="220" width="28.47" height="18" fill="#fcb4a6"/>
<rect x="879.43" y="220" width="27.47" height="18" fill="#fcb4a6"/>
<rect x="494.9" y="238" width="28.47" height="18" fill="#701d22"/>
<rect x="522.37" y="238" width="28.47" height="18" fill="#a02427"/>
<rect x="549.83" y="238" width="28.47" height="18" fill="#a02427"/>
<rect x="577.3" y="238" width="28.47" height="18" fill="#a02427"/>
<rect x="604.77" y="238" width="28.47" height="18" fill="#c4372a"/>
<rect x="632.23" y="238" width="28.47" height="18" fill="#c4372a"/>
<rect x="659.7" y="238" width="28.47" height="18" fill="#d65c50"/>
<rect x="687.17" y="238" width="28.47" height="18" fill="#d65c50"/>
<rect x="714.63" y="238" width="28.47" height="18" fill="#e87a62"/>
<rect x="742.1" y="238" width="28.47" height="18" fill="#e87a62"/>
<rect x="769.57" y="238" width="28.47" height="18" fill="#e38c7e"/>
<rect x="797.03" y="238" width="28.47" height="18" fill="#e38c7e"/>
<rect x="824.5" y="238" width="28.47" height="18" fill="#f5a8a1"/>
<rect x="851.97" y="238" width="28.47" height="18" fill="#fcb4a6"/>
<rect x="879.43" y="238" width="27.47" height="18" fill="#fcb4a6"/>
<rect x="494.9" y="256" width="28.47" height="19" fill="#701d22"/>
<rect x="522.37" y="256" width="28.47" height="19" fill="#701d22"/>
<rect x="549.83" y="256" width="28.47" height="19" fill="#a02427"/>
<rect x="577.3" y="256" width="28.47" height="19" fill="#a02427"/>
<rect x="604.77" y="256" width="28.47" height="19" fill="#a02427"/>
<rect x="632.23" y="256" width="28.47" height="19" fill="#c4372a"/>
<rect x="659.7" y="256" width="28.47" height="19" fill="#c4372a"/>
<rect x="687.17" y="256" width="28.47" height="19" fill="#d65c50"/>
<rect x="714.63" y="256" width="28.47" height="19" fill="#d65c50"/>
<rect x="742.1" y="256" width="28.47" height="19" fill="#e87a62"/>
<rect x="769.57" y="256" width="28.47" height="19" fill="#e87a62"/>
<rect x="797.03" y="256" width="28.47" height="19" fill="#e38c7e"/>
<rect x="824.5" y="256" width="28.47" height="19" fill="#f5a8a1"/>
<rect x="851.97" y="256" width="28.47" height="19" fill="#f5a8a1"/>
<rect x="879.43" y="256" width="27.47" height="19" fill="#fcb4a6"/>
<rect x="494.9" y="275" width="28.47" height="18" fill="#701d22"/>
<rect x="522.37" y="275" width="28.47" height="18" fill="#701d22"/>
<rect x="549.83" y="275" width="28.47" height="18" fill="#701d22"/>
<rect x="577.3" y="275" width="28.47" height="18" fill="#a02427"/>
<rect x="604.77" y="275" width="28.47" height="18" fill="#a02427"/>
<rect x="632.23" y="275" width="28.47" height="18" fill="#a02427"/>
<rect x="659.7" y="275" width="28.47" height="18" fill="#c4372a"/>
<rect x="687.17" y="275" width="28.47" height="18" fill="#c4372a"/>
<rect x="714.63" y="275" width="28.47" height="18" fill="#d65c50"/>
<rect x="742.1" y="275" width="28.47" height="18" fill="#d65c50"/>
<rect x="769.57" y="275" width="28.47" height="18" fill="#e87a62"/>
<rect x="797.03" y="275" width="28.47" height="18" fill="#e38c7e"/>
<rect x="824.5" y="275" width="28.47" height="18" fill="#e38c7e"/>
<rect x="851.97" y="275" width="28.47" height="18" fill="#f5a8a1"/>
<rect x="879.43" y="275" width="27.47" height="18" fill="#f5a8a1"/>
<rect x="494.9" y="293" width="28.47" height="18" fill="#701d22"/>
<rect x="522.37" y="293" width="28.47" height="18" fill="#701d22"/>
<rect x="549.83" y="293" width="28.47" height="18" fill="#701d22"/>
<rect x="577.3" y="293" width="28.47" height="18" fill="#a02427"/>
<rect x="604.77" y="293" width="28.47" height="18" fill="#a02427"/>
<rect x="632.23" y="293" width="28.47" height="18" fill="#a02427"/>
<rect x="659.7" y="293" width="28.47" height="18" fill="#a02427"/>
<rect x="687.17" y="293" width="28.47" height="18" fill="#c4372a"/>
<rect x="714.63" y="293" width="28.47" height="18" fill="#c4372a"/>
<rect x="742.1" y="293" width="28.47" height="18" fill="#d65c50"/>
<rect x="769.57" y="293" width="28.47" height="18" fill="#d65c50"/>
<rect x="797.03" y="293" width="28.47" height="18" fill="#e87a62"/>
<rect x="824.5" y="293" width="28.47" height="18" fill="#e38c7e"/>
<rect x="851.97" y="293" width="28.47" height="18" fill="#e38c7e"/>
<rect x="879.43" y="293" width="27.47" height="18" fill="#f5a8a1"/>
</g>
<text class="a" x="484.6" y="52.36">15</text>
<text class="n" x="506.43" y="52.66">56</text>
<text class="n" x="533.9" y="52.66">50</text>
<text class="n" x="563.57" y="52.66">43</text>
<text class="n" x="591.03" y="52.66">37</text>
<text class="n" x="618.5" y="52.66">32</text>
<text class="n" x="645.97" y="52.66">27</text>
<text class="n" x="673.43" y="52.66">22</text>
<text class="n" x="700.9" y="52.66">18</text>
<text class="n" x="728.37" y="52.66">15</text>
<text class="n" x="755.83" y="52.66">12</text>
<text class="n" x="783.3" y="52.66">10</text>
<text class="n" x="810.77" y="52.66">8</text>
<text class="n" x="838.23" y="52.66">6</text>
<text class="n" x="865.7" y="52.66">5</text>
<text class="n" x="893.17" y="52.66">4</text>
<text class="a" x="484.6" y="70.47">20</text>
<text class="n w" x="506.43" y="70.8">60</text>
<text class="n" x="533.9" y="70.8">54</text>
<text class="n" x="563.57" y="70.8">48</text>
<text class="n" x="591.03" y="70.8">42</text>
<text class="n" x="618.5" y="70.8">36</text>
<text class="n" x="645.97" y="70.8">31</text>
<text class="n" x="673.43" y="70.8">26</text>
<text class="n" x="700.9" y="70.8">21</text>
<text class="n" x="728.37" y="70.8">17</text>
<text class="n" x="755.83" y="70.8">14</text>
<text class="n" x="783.3" y="70.8">11</text>
<text class="n" x="810.77" y="70.8">9</text>
<text class="n" x="838.23" y="70.8">7</text>
<text class="n" x="865.7" y="70.8">6</text>
<text class="n" x="893.17" y="70.8">5</text>
<text class="a" x="484.6" y="88.58">25</text>
<text class="n w" x="506.43" y="88.94">65</text>
<text class="n" x="533.9" y="88.94">59</text>
<text class="n" x="563.57" y="88.94">53</text>
<text class="n" x="591.03" y="88.94">47</text>
<text class="n" x="618.5" y="88.94">41</text>
<text class="n" x="645.97" y="88.94">35</text>
<text class="n" x="673.43" y="88.94">29</text>
<text class="n" x="700.9" y="88.94">25</text>
<text class="n" x="728.37" y="88.94">20</text>
<text class="n" x="755.83" y="88.94">17</text>
<text class="n" x="783.3" y="88.94">13</text>
<text class="n" x="810.77" y="88.94">11</text>
<text class="n" x="838.23" y="88.94">9</text>
<text class="n" x="865.7" y="88.94">7</text>
<text class="n" x="893.17" y="88.94">5</text>
<text class="a" x="484.6" y="106.7">30</text>
<text class="n w" x="506.43" y="107.09">69</text>
<text class="n w" x="533.9" y="107.09">63</text>
<text class="n" x="563.57" y="107.09">57</text>
<text class="n" x="591.03" y="107.09">51</text>
<text class="n" x="618.5" y="107.09">45</text>
<text class="n" x="645.97" y="107.09">39</text>
<text class="n" x="673.43" y="107.09">33</text>
<text class="n" x="700.9" y="107.09">28</text>
<text class="n" x="728.37" y="107.09">23</text>
<text class="n" x="755.83" y="107.09">19</text>
<text class="n" x="783.3" y="107.09">16</text>
<text class="n" x="810.77" y="107.09">13</text>
<text class="n" x="838.23" y="107.09">10</text>
<text class="n" x="865.7" y="107.09">8</text>
<text class="n" x="893.17" y="107.09">6</text>
<text class="a" x="484.6" y="124.81">35</text>
<text class="n w" x="506.43" y="125.23">73</text>
<text class="n w" x="533.9" y="125.23">68</text>
<text class="n w" x="563.57" y="125.23">62</text>
<text class="n" x="591.03" y="125.23">56</text>
<text class="n" x="618.5" y="125.23">50</text>
<text class="n" x="645.97" y="125.23">44</text>
<text class="n" x="673.43" y="125.23">38</text>
<text class="n" x="700.9" y="125.23">32</text>
<text class="n" x="728.37" y="125.23">27</text>
<text class="n" x="755.83" y="125.23">22</text>
<text class="n" x="783.3" y="125.23">18</text>
<text class="n" x="810.77" y="125.23">15</text>
<text class="n" x="838.23" y="125.23">12</text>
<text class="n" x="865.7" y="125.23">10</text>
<text class="n" x="893.17" y="125.23">8</text>
<text class="a" x="484.6" y="142.92">40</text>
<text class="n w" x="506.43" y="143.37">76</text>
<text class="n w" x="533.9" y="143.37">72</text>
<text class="n w" x="563.57" y="143.37">66</text>
<text class="n w" x="591.03" y="143.37">61</text>
<text class="n" x="618.5" y="143.37">55</text>
<text class="n" x="645.97" y="143.37">48</text>
<text class="n" x="673.43" y="143.37">42</text>
<text class="n" x="700.9" y="143.37">36</text>
<text class="n" x="728.37" y="143.37">31</text>
<text class="n" x="755.83" y="143.37">26</text>
<text class="n" x="783.3" y="143.37">21</text>
<text class="n" x="810.77" y="143.37">18</text>
<text class="n" x="838.23" y="143.37">14</text>
<text class="n" x="865.7" y="143.37">11</text>
<text class="n" x="893.17" y="143.37">9</text>
<text class="a" x="484.6" y="161.04">45</text>
<text class="n w" x="506.43" y="161.52">80</text>
<text class="n w" x="533.9" y="161.52">75</text>
<text class="n w" x="563.57" y="161.52">70</text>
<text class="n w" x="591.03" y="161.52">65</text>
<text class="n" x="618.5" y="161.52">59</text>
<text class="n" x="645.97" y="161.52">53</text>
<text class="n" x="673.43" y="161.52">47</text>
<text class="n" x="700.9" y="161.52">41</text>
<text class="n" x="728.37" y="161.52">35</text>
<text class="n" x="755.83" y="161.52">30</text>
<text class="n" x="783.3" y="161.52">25</text>
<text class="n" x="810.77" y="161.52">20</text>
<text class="n" x="838.23" y="161.52">17</text>
<text class="n" x="865.7" y="161.52">14</text>
<text class="n" x="893.17" y="161.52">11</text>
<text class="a" x="484.6" y="179.15">50</text>
<text class="n w" x="506.43" y="179.66">82</text>
<text class="n w" x="533.9" y="179.66">79</text>
<text class="n w" x="563.57" y="179.66">74</text>
<text class="n w" x="591.03" y="179.66">69</text>
<text class="n w" x="618.5" y="179.66">64</text>
<text class="n" x="645.97" y="179.66">58</text>
<text class="n" x="673.43" y="179.66">52</text>
<text class="n" x="700.9" y="179.66">45</text>
<text class="n" x="728.37" y="179.66">39</text>
<text class="n" x="755.83" y="179.66">34</text>
<text class="n" x="783.3" y="179.66">28</text>
<text class="n" x="810.77" y="179.66">24</text>
<text class="n" x="838.23" y="179.66">19</text>
<text class="n" x="865.7" y="179.66">16</text>
<text class="n" x="893.17" y="179.66">13</text>
<text class="a" x="484.6" y="197.26">55</text>
<text class="n w" x="506.43" y="197.8">85</text>
<text class="n w" x="533.9" y="197.8">82</text>
<text class="n w" x="563.57" y="197.8">78</text>
<text class="n w" x="591.03" y="197.8">73</text>
<text class="n w" x="618.5" y="197.8">68</text>
<text class="n w" x="645.97" y="197.8">62</text>
<text class="n" x="673.43" y="197.8">56</text>
<text class="n" x="700.9" y="197.8">50</text>
<text class="n" x="728.37" y="197.8">44</text>
<text class="n" x="755.83" y="197.8">38</text>
<text class="n" x="783.3" y="197.8">32</text>
<text class="n" x="810.77" y="197.8">27</text>
<text class="n" x="838.23" y="197.8">23</text>
<text class="n" x="865.7" y="197.8">19</text>
<text class="n" x="893.17" y="197.8">15</text>
<text class="a" x="484.6" y="215.38">60</text>
<text class="n w" x="506.43" y="215.95">87</text>
<text class="n w" x="533.9" y="215.95">84</text>
<text class="n w" x="563.57" y="215.95">81</text>
<text class="n w" x="591.03" y="215.95">77</text>
<text class="n w" x="618.5" y="215.95">72</text>
<text class="n w" x="645.97" y="215.95">67</text>
<text class="n w" x="673.43" y="215.95">61</text>
<text class="n" x="700.9" y="215.95">55</text>
<text class="n" x="728.37" y="215.95">49</text>
<text class="n" x="755.83" y="215.95">43</text>
<text class="n" x="783.3" y="215.95">37</text>
<text class="n" x="810.77" y="215.95">31</text>
<text class="n" x="838.23" y="215.95">26</text>
<text class="n" x="865.7" y="215.95">22</text>
<text class="n" x="893.17" y="215.95">18</text>
<text class="a" x="484.6" y="233.49">65</text>
<text class="n w" x="506.43" y="234.09">89</text>
<text class="n w" x="533.9" y="234.09">87</text>
<text class="n w" x="563.57" y="234.09">83</text>
<text class="n w" x="591.03" y="234.09">80</text>
<text class="n w" x="618.5" y="234.09">75</text>
<text class="n w" x="645.97" y="234.09">71</text>
<text class="n w" x="673.43" y="234.09">65</text>
<text class="n" x="700.9" y="234.09">59</text>
<text class="n" x="728.37" y="234.09">53</text>
<text class="n" x="755.83" y="234.09">47</text>
<text class="n" x="783.3" y="234.09">41</text>
<text class="n" x="810.77" y="234.09">35</text>
<text class="n" x="838.23" y="234.09">30</text>
<text class="n" x="865.7" y="234.09">25</text>
<text class="n" x="893.17" y="234.09">21</text>
<text class="a" x="484.6" y="251.6">70</text>
<text class="n w" x="506.43" y="252.23">91</text>
<text class="n w" x="533.9" y="252.23">89</text>
<text class="n w" x="563.57" y="252.23">86</text>
<text class="n w" x="591.03" y="252.23">83</text>
<text class="n w" x="618.5" y="252.23">79</text>
<text class="n w" x="645.97" y="252.23">74</text>
<text class="n w" x="673.43" y="252.23">69</text>
<text class="n w" x="700.9" y="252.23">64</text>
<text class="n" x="728.37" y="252.23">58</text>
<text class="n" x="755.83" y="252.23">52</text>
<text class="n" x="783.3" y="252.23">46</text>
<text class="n" x="810.77" y="252.23">40</text>
<text class="n" x="838.23" y="252.23">34</text>
<text class="n" x="865.7" y="252.23">29</text>
<text class="n" x="893.17" y="252.23">24</text>
<text class="a" x="484.6" y="269.72">75</text>
<text class="n w" x="506.43" y="270.38">92</text>
<text class="n w" x="533.9" y="270.38">90</text>
<text class="n w" x="563.57" y="270.38">88</text>
<text class="n w" x="591.03" y="270.38">85</text>
<text class="n w" x="618.5" y="270.38">82</text>
<text class="n w" x="645.97" y="270.38">78</text>
<text class="n w" x="673.43" y="270.38">73</text>
<text class="n w" x="700.9" y="270.38">68</text>
<text class="n w" x="728.37" y="270.38">63</text>
<text class="n" x="755.83" y="270.38">57</text>
<text class="n" x="783.3" y="270.38">50</text>
<text class="n" x="810.77" y="270.38">44</text>
<text class="n" x="838.23" y="270.38">38</text>
<text class="n" x="865.7" y="270.38">33</text>
<text class="n" x="893.17" y="270.38">27</text>
<text class="a" x="484.6" y="287.83">80</text>
<text class="n w" x="506.43" y="288.52">94</text>
<text class="n w" x="533.9" y="288.52">92</text>
<text class="n w" x="563.57" y="288.52">90</text>
<text class="n w" x="591.03" y="288.52">87</text>
<text class="n w" x="618.5" y="288.52">84</text>
<text class="n w" x="645.97" y="288.52">81</text>
<text class="n w" x="673.43" y="288.52">77</text>
<text class="n w" x="700.9" y="288.52">72</text>
<text class="n w" x="728.37" y="288.52">67</text>
<text class="n w" x="755.83" y="288.52">61</text>
<text class="n" x="783.3" y="288.52">55</text>
<text class="n" x="810.77" y="288.52">49</text>
<text class="n" x="838.23" y="288.52">43</text>
<text class="n" x="865.7" y="288.52">37</text>
<text class="n" x="893.17" y="288.52">31</text>
<text class="a" x="484.6" y="305.94">85</text>
<text class="n w" x="506.43" y="306.66">95</text>
<text class="n w" x="533.9" y="306.66">93</text>
<text class="n w" x="563.57" y="306.66">91</text>
<text class="n w" x="591.03" y="306.66">89</text>
<text class="n w" x="618.5" y="306.66">87</text>
<text class="n w" x="645.97" y="306.66">84</text>
<text class="n w" x="673.43" y="306.66">80</text>
<text class="n w" x="700.9" y="306.66">76</text>
<text class="n w" x="728.37" y="306.66">71</text>
<text class="n w" x="755.83" y="306.66">66</text>
<text class="n w" x="783.3" y="306.66">60</text>
<text class="n" x="810.77" y="306.66">54</text>
<text class="n" x="838.23" y="306.66">47</text>
<text class="n" x="865.7" y="306.66">41</text>
<text class="n" x="893.17" y="306.66">36</text>
<text class="a" x="508.63" y="323.8">1</text>
<text class="a" x="536.1" y="323.8">2</text>
<text class="a" x="563.57" y="323.8">3</text>
<text class="a" x="591.03" y="323.8">4</text>
<text class="a" x="618.5" y="323.8">5</text>
<text class="a" x="645.97" y="323.8">6</text>
<text class="a" x="673.43" y="323.8">7</text>
<text class="a" x="700.9" y="323.8">8</text>
<text class="a" x="728.37" y="323.8">9</text>
<text class="a" x="755.83" y="323.8">10</text>
<text class="a" x="783.3" y="323.8">11</text>
<text class="a" x="810.77" y="323.8">12</text>
<text class="a" x="838.23" y="323.8">13</text>
<text class="a" x="865.7" y="323.8">14</text>
<text class="a" x="893.17" y="323.8">15</text>
<g fill="none" stroke="#000" stroke-linejoin="miter"><path d="M522.1 111.3H550.4" stroke-width="1.9"/><path d="M522.9 111V147" stroke-width="1.5"/><path d="M549.6 111V147" stroke-width="1.6"/><path d="M522.1 146.8H550.4" stroke-width="1.8"/></g>
<rect x="6.2" y="348" width="21.3" height="272" fill="#fff"/>
<rect x="26.5" y="619" width="413.7" height="18.8" fill="#fff"/>
<g>
<rect x="26.5" y="348" width="28.58" height="18" fill="#fdf27c"/>
<rect x="54.08" y="348" width="28.58" height="18" fill="#fdec62"/>
<rect x="81.66" y="348" width="28.58" height="18" fill="#fde548"/>
<rect x="109.24" y="348" width="28.58" height="18" fill="#fde548"/>
<rect x="136.82" y="348" width="28.58" height="18" fill="#fde030"/>
<rect x="164.4" y="348" width="28.58" height="18" fill="#fde030"/>
<rect x="191.98" y="348" width="28.58" height="18" fill="#fdd520"/>
<rect x="219.56" y="348" width="28.58" height="18" fill="#fdd520"/>
<rect x="247.14" y="348" width="28.58" height="18" fill="#fdc830"/>
<rect x="274.72" y="348" width="28.58" height="18" fill="#fdc830"/>
<rect x="302.3" y="348" width="28.58" height="18" fill="#fdc830"/>
<rect x="329.88" y="348" width="28.58" height="18" fill="#fdbb00"/>
<rect x="357.46" y="348" width="28.58" height="18" fill="#fdbb00"/>
<rect x="385.04" y="348" width="28.58" height="18" fill="#fdbb00"/>
<rect x="412.62" y="348" width="27.58" height="18" fill="#fdbb00"/>
<rect x="26.5" y="366" width="28.58" height="18" fill="#fdf27c"/>
<rect x="54.08" y="366" width="28.58" height="18" fill="#fdf27c"/>
<rect x="81.66" y="366" width="28.58" height="18" fill="#fdec62"/>
<rect x="109.24" y="366" width="28.58" height="18" fill="#fde548"/>
<rect x="136.82" y="366" width="28.58" height="18" fill="#fde548"/>
<rect x="164.4" y="366" width="28.58" height="18" fill="#fde030"/>
<rect x="191.98" y="366" width="28.58" height="18" fill="#fdd520"/>
<rect x="219.56" y="366" width="28.58" height="18" fill="#fdd520"/>
<rect x="247.14" y="366" width="28.58" height="18" fill="#fdc830"/>
<rect x="274.72" y="366" width="28.58" height="18" fill="#fdc830"/>
<rect x="302.3" y="366" width="28.58" height="18" fill="#fdc830"/>
<rect x="329.88" y="366" width="28.58" height="18" fill="#fdbb00"/>
<rect x="357.46" y="366" width="28.58" height="18" fill="#fdbb00"/>
<rect x="385.04" y="366" width="28.58" height="18" fill="#fdbb00"/>
<rect x="412.62" y="366" width="27.58" height="18" fill="#fdbb00"/>
<rect x="26.5" y="384" width="28.58" height="18" fill="#fdfb80"/>
<rect x="54.08" y="384" width="28.58" height="18" fill="#fdf27c"/>
<rect x="81.66" y="384" width="28.58" height="18" fill="#fdec62"/>
<rect x="109.24" y="384" width="28.58" height="18" fill="#fdec62"/>
<rect x="136.82" y="384" width="28.58" height="18" fill="#fde548"/>
<rect x="164.4" y="384" width="28.58" height="18" fill="#fde030"/>
<rect x="191.98" y="384" width="28.58" height="18" fill="#fde030"/>
<rect x="219.56" y="384" width="28.58" height="18" fill="#fdd520"/>
<rect x="247.14" y="384" width="28.58" height="18" fill="#fdd520"/>
<rect x="274.72" y="384" width="28.58" height="18" fill="#fdc830"/>
<rect x="302.3" y="384" width="28.58" height="18" fill="#fdc830"/>
<rect x="329.88" y="384" width="28.58" height="18" fill="#fdc830"/>
<rect x="357.46" y="384" width="28.58" height="18" fill="#fdbb00"/>
<rect x="385.04" y="384" width="28.58" height="18" fill="#fdbb00"/>
<rect x="412.62" y="384" width="27.58" height="18" fill="#fdbb00"/>
<rect x="26.5" y="402" width="28.58" height="19" fill="#fdfb80"/>
<rect x="54.08" y="402" width="28.58" height="19" fill="#fdfb80"/>
<rect x="81.66" y="402" width="28.58" height="19" fill="#fdf27c"/>
<rect x="109.24" y="402" width="28.58" height="19" fill="#fdec62"/>
<rect x="136.82" y="402" width="28.58" height="19" fill="#fdec62"/>
<rect x="164.4" y="402" width="28.58" height="19" fill="#fde548"/>
<rect x="191.98" y="402" width="28.58" height="19" fill="#fde030"/>
<rect x="219.56" y="402" width="28.58" height="19" fill="#fde030"/>
<rect x="247.14" y="402" width="28.58" height="19" fill="#fdd520"/>
<rect x="274.72" y="402" width="28.58" height="19" fill="#fdd520"/>
<rect x="302.3" y="402" width="28.58" height="19" fill="#fdc830"/>
<rect x="329.88" y="402" width="28.58" height="19" fill="#fdc830"/>
<rect x="357.46" y="402" width="28.58" height="19" fill="#fdc830"/>
<rect x="385.04" y="402" width="28.58" height="19" fill="#fdbb00"/>
<rect x="412.62" y="402" width="27.58" height="19" fill="#fdbb00"/>
<rect x="26.5" y="421" width="28.58" height="18" fill="#fdfb80"/>
<rect x="54.08" y="421" width="28.58" height="18" fill="#fdfb80"/>
<rect x="81.66" y="421" width="28.58" height="18" fill="#fdf27c"/>
<rect x="109.24" y="421" width="28.58" height="18" fill="#fdf27c"/>
<rect x="136.82" y="421" width="28.58" height="18" fill="#fdec62"/>
<rect x="164.4" y="421" width="28.58" height="18" fill="#fde548"/>
<rect x="191.98" y="421" width="28.58" height="18" fill="#fde548"/>
<rect x="219.56" y="421" width="28.58" height="18" fill="#fde030"/>
<rect x="247.14" y="421" width="28.58" height="18" fill="#fde030"/>
<rect x="274.72" y="421" width="28.58" height="18" fill="#fdd520"/>
<rect x="302.3" y="421" width="28.58" height="18" fill="#fdd520"/>
<rect x="329.88" y="421" width="28.58" height="18" fill="#fdc830"/>
<rect x="357.46" y="421" width="28.58" height="18" fill="#fdc830"/>
<rect x="385.04" y="421" width="28.58" height="18" fill="#fdc830"/>
<rect x="412.62" y="421" width="27.58" height="18" fill="#fdbb00"/>
<rect x="26.5" y="439" width="28.58" height="18" fill="#fdfa9c"/>
<rect x="54.08" y="439" width="28.58" height="18" fill="#fdfb80"/>
<rect x="81.66" y="439" width="28.58" height="18" fill="#fdfb80"/>
<rect x="109.24" y="439" width="28.58" height="18" fill="#fdf27c"/>
<rect x="136.82" y="439" width="28.58" height="18" fill="#fdf27c"/>
<rect x="164.4" y="439" width="28.58" height="18" fill="#fdec62"/>
<rect x="191.98" y="439" width="28.58" height="18" fill="#fde548"/>
<rect x="219.56" y="439" width="28.58" height="18" fill="#fde548"/>
<rect x="247.14" y="439" width="28.58" height="18" fill="#fde030"/>
<rect x="274.72" y="439" width="28.58" height="18" fill="#fdd520"/>
<rect x="302.3" y="439" width="28.58" height="18" fill="#fdd520"/>
<rect x="329.88" y="439" width="28.58" height="18" fill="#fdc830"/>
<rect x="357.46" y="439" width="28.58" height="18" fill="#fdc830"/>
<rect x="385.04" y="439" width="28.58" height="18" fill="#fdc830"/>
<rect x="412.62" y="439" width="27.58" height="18" fill="#fdbb00"/>
<rect x="26.5" y="457" width="28.58" height="18" fill="#fdfa9c"/>
<rect x="54.08" y="457" width="28.58" height="18" fill="#fdfa9c"/>
<rect x="81.66" y="457" width="28.58" height="18" fill="#fdfb80"/>
<rect x="109.24" y="457" width="28.58" height="18" fill="#fdfb80"/>
<rect x="136.82" y="457" width="28.58" height="18" fill="#fdf27c"/>
<rect x="164.4" y="457" width="28.58" height="18" fill="#fdec62"/>
<rect x="191.98" y="457" width="28.58" height="18" fill="#fdec62"/>
<rect x="219.56" y="457" width="28.58" height="18" fill="#fde548"/>
<rect x="247.14" y="457" width="28.58" height="18" fill="#fde030"/>
<rect x="274.72" y="457" width="28.58" height="18" fill="#fde030"/>
<rect x="302.3" y="457" width="28.58" height="18" fill="#fdd520"/>
<rect x="329.88" y="457" width="28.58" height="18" fill="#fdd520"/>
<rect x="357.46" y="457" width="28.58" height="18" fill="#fdc830"/>
<rect x="385.04" y="457" width="28.58" height="18" fill="#fdc830"/>
<rect x="412.62" y="457" width="27.58" height="18" fill="#fdc830"/>
<rect x="26.5" y="475" width="28.58" height="18" fill="#fdfa9c"/>
<rect x="54.08" y="475" width="28.58" height="18" fill="#fdfa9c"/>
<rect x="81.66" y="475" width="28.58" height="18" fill="#fdfa9c"/>
<rect x="109.24" y="475" width="28.58" height="18" fill="#fdfb80"/>
<rect x="136.82" y="475" width="28.58" height="18" fill="#fdfb80"/>
<rect x="164.4" y="475" width="28.58" height="18" fill="#fdf27c"/>
<rect x="191.98" y="475" width="28.58" height="18" fill="#fdec62"/>
<rect x="219.56" y="475" width="28.58" height="18" fill="#fdec62"/>
<rect x="247.14" y="475" width="28.58" height="18" fill="#fde548"/>
<rect x="274.72" y="475" width="28.58" height="18" fill="#fde030"/>
<rect x="302.3" y="475" width="28.58" height="18" fill="#fde030"/>
<rect x="329.88" y="475" width="28.58" height="18" fill="#fdd520"/>
<rect x="357.46" y="475" width="28.58" height="18" fill="#fdd520"/>
<rect x="385.04" y="475" width="28.58" height="18" fill="#fdc830"/>
<rect x="412.62" y="475" width="27.58" height="18" fill="#fdc830"/>
<rect x="26.5" y="493" width="28.58" height="18" fill="#fdfa9c"/>
<rect x="54.08" y="493" width="28.58" height="18" fill="#fdfa9c"/>
<rect x="81.66" y="493" width="28.58" height="18" fill="#fdfa9c"/>
<rect x="109.24" y="493" width="28.58" height="18" fill="#fdfb80"/>
<rect x="136.82" y="493" width="28.58" height="18" fill="#fdfb80"/>
<rect x="164.4" y="493" width="28.58" height="18" fill="#fdf27c"/>
<rect x="191.98" y="493" width="28.58" height="18" fill="#fdf27c"/>
<rect x="219.56" y="493" width="28.58" height="18" fill="#fdec62"/>
<rect x="247.14" y="493" width="28.58" height="18" fill="#fdec62"/>
<rect x="274.72" y="493" width="28.58" height="18" fill="#fde548"/>
<rect x="302.3" y="493" width="28.58" height="18" fill="#fde030"/>
<rect x="329.88" y="493" width="28.58" height="18" fill="#fde030"/>
<rect x="357.46" y="493" width="28.58" height="18" fill="#fdd520"/>
<rect x="385.04" y="493" width="28.58" height="18" fill="#fdd520"/>
<rect x="412.62" y="493" width="27.58" height="18" fill="#fdc830"/>
<rect x="26.5" y="511" width="28.58" height="18" fill="#fdf9c0"/>
<rect x="54.08" y="511" width="28.58" height="18" fill="#fdfa9c"/>
<rect x="81.66" y="511" width="28.58" height="18" fill="#fdfa9c"/>
<rect x="109.24" y="511" width="28.58" height="18" fill="#fdfa9c"/>
<rect x="136.82" y="511" width="28.58" height="18" fill="#fdfb80"/>
<rect x="164.4" y="511" width="28.58" height="18" fill="#fdfb80"/>
<rect x="191.98" y="511" width="28.58" height="18" fill="#fdf27c"/>
<rect x="219.56" y="511" width="28.58" height="18" fill="#fdf27c"/>
<rect x="247.14" y="511" width="28.58" height="18" fill="#fdec62"/>
<rect x="274.72" y="511" width="28.58" height="18" fill="#fde548"/>
<rect x="302.3" y="511" width="28.58" height="18" fill="#fde548"/>
<rect x="329.88" y="511" width="28.58" height="18" fill="#fde030"/>
<rect x="357.46" y="511" width="28.58" height="18" fill="#fdd520"/>
<rect x="385.04" y="511" width="28.58" height="18" fill="#fdd520"/>
<rect x="412.62" y="511" width="27.58" height="18" fill="#fdc830"/>
<rect x="26.5" y="529" width="28.58" height="18" fill="#fdf9c0"/>
<rect x="54.08" y="529" width="28.58" height="18" fill="#fdf9c0"/>
<rect x="81.66" y="529" width="28.58" height="18" fill="#fdfa9c"/>
<rect x="109.24" y="529" width="28.58" height="18" fill="#fdfa9c"/>
<rect x="136.82" y="529" width="28.58" height="18" fill="#fdfa9c"/>
<rect x="164.4" y="529" width="28.58" height="18" fill="#fdfb80"/>
<rect x="191.98" y="529" width="28.58" height="18" fill="#fdfb80"/>
<rect x="219.56" y="529" width="28.58" height="18" fill="#fdf27c"/>
<rect x="247.14" y="529" width="28.58" height="18" fill="#fdf27c"/>
<rect x="274.72" y="529" width="28.58" height="18" fill="#fdec62"/>
<rect x="302.3" y="529" width="28.58" height="18" fill="#fde548"/>
<rect x="329.88" y="529" width="28.58" height="18" fill="#fde548"/>
<rect x="357.46" y="529" width="28.58" height="18" fill="#fde030"/>
<rect x="385.04" y="529" width="28.58" height="18" fill="#fdd520"/>
<rect x="412.62" y="529" width="27.58" height="18" fill="#fdd520"/>
<rect x="26.5" y="547" width="28.58" height="18" fill="#fdf9c0"/>
<rect x="54.08" y="547" width="28.58" height="18" fill="#fdf9c0"/>
<rect x="81.66" y="547" width="28.58" height="18" fill="#fdfa9c"/>
<rect x="109.24" y="547" width="28.58" height="18" fill="#fdfa9c"/>
<rect x="136.82" y="547" width="28.58" height="18" fill="#fdfa9c"/>
<rect x="164.4" y="547" width="28.58" height="18" fill="#fdfa9c"/>
<rect x="191.98" y="547" width="28.58" height="18" fill="#fdfb80"/>
<rect x="219.56" y="547" width="28.58" height="18" fill="#fdfb80"/>
<rect x="247.14" y="547" width="28.58" height="18" fill="#fdf27c"/>
<rect x="274.72" y="547" width="28.58" height="18" fill="#fdec62"/>
<rect x="302.3" y="547" width="28.58" height="18" fill="#fdec62"/>
<rect x="329.88" y="547" width="28.58" height="18" fill="#fde548"/>
<rect x="357.46" y="547" width="28.58" height="18" fill="#fde030"/>
<rect x="385.04" y="547" width="28.58" height="18" fill="#fde030"/>
<rect x="412.62" y="547" width="27.58" height="18" fill="#fdd520"/>
<rect x="26.5" y="565" width="28.58" height="19" fill="#fdf9c0"/>
<rect x="54.08" y="565" width="28.58" height="19" fill="#fdf9c0"/>
<rect x="81.66" y="565" width="28.58" height="19" fill="#fdf9c0"/>
<rect x="109.24" y="565" width="28.58" height="19" fill="#fdfa9c"/>
<rect x="136.82" y="565" width="28.58" height="19" fill="#fdfa9c"/>
<rect x="164.4" y="565" width="28.58" height="19" fill="#fdfa9c"/>
<rect x="191.98" y="565" width="28.58" height="19" fill="#fdfb80"/>
<rect x="219.56" y="565" width="28.58" height="19" fill="#fdfb80"/>
<rect x="247.14" y="565" width="28.58" height="19" fill="#fdf27c"/>
<rect x="274.72" y="565" width="28.58" height="19" fill="#fdf27c"/>
<rect x="302.3" y="565" width="28.58" height="19" fill="#fdec62"/>
<rect x="329.88" y="565" width="28.58" height="19" fill="#fdec62"/>
<rect x="357.46" y="565" width="28.58" height="19" fill="#fde548"/>
<rect x="385.04" y="565" width="28.58" height="19" fill="#fde030"/>
<rect x="412.62" y="565" width="27.58" height="19" fill="#fde030"/>
<rect x="26.5" y="584" width="28.58" height="18" fill="#fdf9c0"/>
<rect x="54.08" y="584" width="28.58" height="18" fill="#fdf9c0"/>
<rect x="81.66" y="584" width="28.58" height="18" fill="#fdf9c0"/>
<rect x="109.24" y="584" width="28.58" height="18" fill="#fdf9c0"/>
<rect x="136.82" y="584" width="28.58" height="18" fill="#fdfa9c"/>
<rect x="164.4" y="584" width="28.58" height="18" fill="#fdfa9c"/>
<rect x="191.98" y="584" width="28.58" height="18" fill="#fdfa9c"/>
<rect x="219.56" y="584" width="28.58" height="18" fill="#fdfb80"/>
<rect x="247.14" y="584" width="28.58" height="18" fill="#fdfb80"/>
<rect x="274.72" y="584" width="28.58" height="18" fill="#fdf27c"/>
<rect x="302.3" y="584" width="28.58" height="18" fill="#fdf27c"/>
<rect x="329.88" y="584" width="28.58" height="18" fill="#fdec62"/>
<rect x="357.46" y="584" width="28.58" height="18" fill="#fde548"/>
<rect x="385.04" y="584" width="28.58" height="18" fill="#fde548"/>
<rect x="412.62" y="584" width="27.58" height="18" fill="#fde030"/>
<rect x="26.5" y="602" width="28.58" height="18" fill="#fdf9c0"/>
<rect x="54.08" y="602" width="28.58" height="18" fill="#fdf9c0"/>
<rect x="81.66" y="602" width="28.58" height="18" fill="#fdf9c0"/>
<rect x="109.24" y="602" width="28.58" height="18" fill="#fdf9c0"/>
<rect x="136.82" y="602" width="28.58" height="18" fill="#fdf9c0"/>
<rect x="164.4" y="602" width="28.58" height="18" fill="#fdfa9c"/>
<rect x="191.98" y="602" width="28.58" height="18" fill="#fdfa9c"/>
<rect x="219.56" y="602" width="28.58" height="18" fill="#fdfa9c"/>
<rect x="247.14" y="602" width="28.58" height="18" fill="#fdfb80"/>
<rect x="274.72" y="602" width="28.58" height="18" fill="#fdfb80"/>
<rect x="302.3" y="602" width="28.58" height="18" fill="#fdf27c"/>
<rect x="329.88" y="602" width="28.58" height="18" fill="#fdf27c"/>
<rect x="357.46" y="602" width="28.58" height="18" fill="#fdec62"/>
<rect x="385.04" y="602" width="28.58" height="18" fill="#fde548"/>
<rect x="412.62" y="602" width="27.58" height="18" fill="#fde548"/>
</g>
<text class="a" x="16.2" y="361.45">15</text>
<text class="n" x="38.09" y="361.75">37</text>
<text class="n" x="65.67" y="361.75">43</text>
<text class="n" x="95.45" y="361.75">50</text>
<text class="n" x="123.03" y="361.75">57</text>
<text class="n" x="150.61" y="361.75">63</text>
<text class="n" x="178.19" y="361.75">69</text>
<text class="n" x="205.77" y="361.75">74</text>
<text class="n" x="233.35" y="361.75">79</text>
<text class="n" x="260.93" y="361.75">83</text>
<text class="n" x="288.51" y="361.75">87</text>
<text class="n" x="316.09" y="361.75">89</text>
<text class="n" x="343.67" y="361.75">92</text>
<text class="n" x="371.25" y="361.75">94</text>
<text class="n" x="398.83" y="361.75">95</text>
<text class="n" x="426.41" y="361.75">96</text>
<text class="a" x="16.2" y="379.55">20</text>
<text class="n" x="38.09" y="379.85">32</text>
<text class="n" x="65.67" y="379.85">38</text>
<text class="n" x="95.45" y="379.85">45</text>
<text class="n" x="123.03" y="379.85">52</text>
<text class="n" x="150.61" y="379.85">58</text>
<text class="n" x="178.19" y="379.85">64</text>
<text class="n" x="205.77" y="379.85">70</text>
<text class="n" x="233.35" y="379.85">76</text>
<text class="n" x="260.93" y="379.85">80</text>
<text class="n" x="288.51" y="379.85">84</text>
<text class="n" x="316.09" y="379.85">87</text>
<text class="n" x="343.67" y="379.85">90</text>
<text class="n" x="371.25" y="379.85">92</text>
<text class="n" x="398.83" y="379.85">94</text>
<text class="n" x="426.41" y="379.85">95</text>
<text class="a" x="16.2" y="397.65">25</text>
<text class="n" x="38.09" y="397.95">28</text>
<text class="n" x="65.67" y="397.95">34</text>
<text class="n" x="95.45" y="397.95">40</text>
<text class="n" x="123.03" y="397.95">46</text>
<text class="n" x="150.61" y="397.95">53</text>
<text class="n" x="178.19" y="397.95">60</text>
<text class="n" x="205.77" y="397.95">66</text>
<text class="n" x="233.35" y="397.95">72</text>
<text class="n" x="260.93" y="397.95">77</text>
<text class="n" x="288.51" y="397.95">81</text>
<text class="n" x="316.09" y="397.95">85</text>
<text class="n" x="343.67" y="397.95">88</text>
<text class="n" x="371.25" y="397.95">91</text>
<text class="n" x="398.83" y="397.95">93</text>
<text class="n" x="426.41" y="397.95">94</text>
<text class="a" x="16.2" y="415.75">30</text>
<text class="n" x="38.09" y="416.05">24</text>
<text class="n" x="65.67" y="416.05">29</text>
<text class="n" x="95.45" y="416.05">35</text>
<text class="n" x="123.03" y="416.05">41</text>
<text class="n" x="150.61" y="416.05">48</text>
<text class="n" x="178.19" y="416.05">55</text>
<text class="n" x="205.77" y="416.05">61</text>
<text class="n" x="233.35" y="416.05">67</text>
<text class="n" x="260.93" y="416.05">73</text>
<text class="n" x="288.51" y="416.05">78</text>
<text class="n" x="316.09" y="416.05">82</text>
<text class="n" x="343.67" y="416.05">86</text>
<text class="n" x="371.25" y="416.05">89</text>
<text class="n" x="398.83" y="416.05">91</text>
<text class="n" x="426.41" y="416.05">93</text>
<text class="a" x="16.2" y="433.85">35</text>
<text class="n" x="38.09" y="434.15">21</text>
<text class="n" x="65.67" y="434.15">25</text>
<text class="n" x="95.45" y="434.15">31</text>
<text class="n" x="123.03" y="434.15">37</text>
<text class="n" x="150.61" y="434.15">43</text>
<text class="n" x="178.19" y="434.15">50</text>
<text class="n" x="205.77" y="434.15">56</text>
<text class="n" x="233.35" y="434.15">63</text>
<text class="n" x="260.93" y="434.15">69</text>
<text class="n" x="288.51" y="434.15">74</text>
<text class="n" x="316.09" y="434.15">79</text>
<text class="n" x="343.67" y="434.15">83</text>
<text class="n" x="371.25" y="434.15">87</text>
<text class="n" x="398.83" y="434.15">89</text>
<text class="n" x="426.41" y="434.15">92</text>
<text class="a" x="16.2" y="451.95">40</text>
<text class="n" x="38.09" y="452.25">17</text>
<text class="n" x="65.67" y="452.25">22</text>
<text class="n" x="95.45" y="452.25">27</text>
<text class="n" x="123.03" y="452.25">32</text>
<text class="n" x="150.61" y="452.25">38</text>
<text class="n" x="178.19" y="452.25">45</text>
<text class="n" x="205.77" y="452.25">51</text>
<text class="n" x="233.35" y="452.25">58</text>
<text class="n" x="260.93" y="452.25">64</text>
<text class="n" x="288.51" y="452.25">70</text>
<text class="n" x="316.09" y="452.25">75</text>
<text class="n" x="343.67" y="452.25">80</text>
<text class="n" x="371.25" y="452.25">84</text>
<text class="n" x="398.83" y="452.25">87</text>
<text class="n" x="426.41" y="452.25">90</text>
<text class="a" x="16.2" y="470.05">45</text>
<text class="n" x="38.09" y="470.35">15</text>
<text class="n" x="65.67" y="470.35">18</text>
<text class="n" x="95.45" y="470.35">23</text>
<text class="n" x="123.03" y="470.35">28</text>
<text class="n" x="150.61" y="470.35">33</text>
<text class="n" x="178.19" y="470.35">40</text>
<text class="n" x="205.77" y="470.35">46</text>
<text class="n" x="233.35" y="470.35">53</text>
<text class="n" x="260.93" y="470.35">60</text>
<text class="n" x="288.51" y="470.35">66</text>
<text class="n" x="316.09" y="470.35">72</text>
<text class="n" x="343.67" y="470.35">77</text>
<text class="n" x="371.25" y="470.35">81</text>
<text class="n" x="398.83" y="470.35">85</text>
<text class="n" x="426.41" y="470.35">88</text>
<text class="a" x="16.2" y="488.15">50</text>
<text class="n" x="38.09" y="488.45">12</text>
<text class="n" x="65.67" y="488.45">16</text>
<text class="n" x="95.45" y="488.45">19</text>
<text class="n" x="123.03" y="488.45">24</text>
<text class="n" x="150.61" y="488.45">29</text>
<text class="n" x="178.19" y="488.45">35</text>
<text class="n" x="205.77" y="488.45">41</text>
<text class="n" x="233.35" y="488.45">48</text>
<text class="n" x="260.93" y="488.45">55</text>
<text class="n" x="288.51" y="488.45">61</text>
<text class="n" x="316.09" y="488.45">67</text>
<text class="n" x="343.67" y="488.45">73</text>
<text class="n" x="371.25" y="488.45">78</text>
<text class="n" x="398.83" y="488.45">82</text>
<text class="n" x="426.41" y="488.45">86</text>
<text class="a" x="16.2" y="506.25">55</text>
<text class="n" x="38.09" y="506.55">10</text>
<text class="n" x="65.67" y="506.55">13</text>
<text class="n" x="95.45" y="506.55">16</text>
<text class="n" x="123.03" y="506.55">20</text>
<text class="n" x="150.61" y="506.55">25</text>
<text class="n" x="178.19" y="506.55">30</text>
<text class="n" x="205.77" y="506.55">36</text>
<text class="n" x="233.35" y="506.55">43</text>
<text class="n" x="260.93" y="506.55">49</text>
<text class="n" x="288.51" y="506.55">56</text>
<text class="n" x="316.09" y="506.55">63</text>
<text class="n" x="343.67" y="506.55">69</text>
<text class="n" x="371.25" y="506.55">74</text>
<text class="n" x="398.83" y="506.55">79</text>
<text class="n" x="426.41" y="506.55">83</text>
<text class="a" x="16.2" y="524.35">60</text>
<text class="n" x="38.09" y="524.65">9</text>
<text class="n" x="65.67" y="524.65">11</text>
<text class="n" x="95.45" y="524.65">14</text>
<text class="n" x="123.03" y="524.65">17</text>
<text class="n" x="150.61" y="524.65">21</text>
<text class="n" x="178.19" y="524.65">26</text>
<text class="n" x="205.77" y="524.65">32</text>
<text class="n" x="233.35" y="524.65">38</text>
<text class="n" x="260.93" y="524.65">44</text>
<text class="n" x="288.51" y="524.65">51</text>
<text class="n" x="316.09" y="524.65">58</text>
<text class="n" x="343.67" y="524.65">64</text>
<text class="n" x="371.25" y="524.65">70</text>
<text class="n" x="398.83" y="524.65">75</text>
<text class="n" x="426.41" y="524.65">80</text>
<text class="a" x="16.2" y="542.45">65</text>
<text class="n" x="38.09" y="542.75">7</text>
<text class="n" x="65.67" y="542.75">9</text>
<text class="n" x="95.45" y="542.75">12</text>
<text class="n" x="123.03" y="542.75">15</text>
<text class="n" x="150.61" y="542.75">18</text>
<text class="n" x="178.19" y="542.75">23</text>
<text class="n" x="205.77" y="542.75">28</text>
<text class="n" x="233.35" y="542.75">33</text>
<text class="n" x="260.93" y="542.75">39</text>
<text class="n" x="288.51" y="542.75">46</text>
<text class="n" x="316.09" y="542.75">53</text>
<text class="n" x="343.67" y="542.75">59</text>
<text class="n" x="371.25" y="542.75">66</text>
<text class="n" x="398.83" y="542.75">71</text>
<text class="n" x="426.41" y="542.75">77</text>
<text class="a" x="16.2" y="560.55">70</text>
<text class="n" x="38.09" y="560.85">6</text>
<text class="n" x="65.67" y="560.85">8</text>
<text class="n" x="95.45" y="560.85">10</text>
<text class="n" x="123.03" y="560.85">12</text>
<text class="n" x="150.61" y="560.85">15</text>
<text class="n" x="178.19" y="560.85">19</text>
<text class="n" x="205.77" y="560.85">24</text>
<text class="n" x="233.35" y="560.85">29</text>
<text class="n" x="260.93" y="560.85">35</text>
<text class="n" x="288.51" y="560.85">41</text>
<text class="n" x="316.09" y="560.85">48</text>
<text class="n" x="343.67" y="560.85">54</text>
<text class="n" x="371.25" y="560.85">61</text>
<text class="n" x="398.83" y="560.85">67</text>
<text class="n" x="426.41" y="560.85">73</text>
<text class="a" x="16.2" y="578.65">75</text>
<text class="n" x="38.09" y="578.95">5</text>
<text class="n" x="65.67" y="578.95">6</text>
<text class="n" x="95.45" y="578.95">8</text>
<text class="n" x="123.03" y="578.95">10</text>
<text class="n" x="150.61" y="578.95">13</text>
<text class="n" x="178.19" y="578.95">16</text>
<text class="n" x="205.77" y="578.95">20</text>
<text class="n" x="233.35" y="578.95">25</text>
<text class="n" x="260.93" y="578.95">30</text>
<text class="n" x="288.51" y="578.95">36</text>
<text class="n" x="316.09" y="578.95">43</text>
<text class="n" x="343.67" y="578.95">49</text>
<text class="n" x="371.25" y="578.95">56</text>
<text class="n" x="398.83" y="578.95">62</text>
<text class="n" x="426.41" y="578.95">68</text>
<text class="a" x="16.2" y="596.75">80</text>
<text class="n" x="38.09" y="597.05">4</text>
<text class="n" x="65.67" y="597.05">5</text>
<text class="n" x="95.45" y="597.05">7</text>
<text class="n" x="123.03" y="597.05">9</text>
<text class="n" x="150.61" y="597.05">11</text>
<text class="n" x="178.19" y="597.05">14</text>
<text class="n" x="205.77" y="597.05">17</text>
<text class="n" x="233.35" y="597.05">21</text>
<text class="n" x="260.93" y="597.05">26</text>
<text class="n" x="288.51" y="597.05">32</text>
<text class="n" x="316.09" y="597.05">38</text>
<text class="n" x="343.67" y="597.05">44</text>
<text class="n" x="371.25" y="597.05">51</text>
<text class="n" x="398.83" y="597.05">58</text>
<text class="n" x="426.41" y="597.05">64</text>
<text class="a" x="16.2" y="614.85">85</text>
<text class="n" x="38.09" y="615.15">3</text>
<text class="n" x="65.67" y="615.15">4</text>
<text class="n" x="95.45" y="615.15">5</text>
<text class="n" x="123.03" y="615.15">7</text>
<text class="n" x="150.61" y="615.15">9</text>
<text class="n" x="178.19" y="615.15">11</text>
<text class="n" x="205.77" y="615.15">14</text>
<text class="n" x="233.35" y="615.15">18</text>
<text class="n" x="260.93" y="615.15">22</text>
<text class="n" x="288.51" y="615.15">27</text>
<text class="n" x="316.09" y="615.15">33</text>
<text class="n" x="343.67" y="615.15">39</text>
<text class="n" x="371.25" y="615.15">46</text>
<text class="n" x="398.83" y="615.15">53</text>
<text class="n" x="426.41" y="615.15">59</text>
<text class="a" x="40.29" y="633.4">1</text>
<text class="a" x="67.87" y="633.4">2</text>
<text class="a" x="95.45" y="633.4">3</text>
<text class="a" x="123.03" y="633.4">4</text>
<text class="a" x="150.61" y="633.4">5</text>
<text class="a" x="178.19" y="633.4">6</text>
<text class="a" x="205.77" y="633.4">7</text>
<text class="a" x="233.35" y="633.4">8</text>
<text class="a" x="260.93" y="633.4">9</text>
<text class="a" x="288.51" y="633.4">10</text>
<text class="a" x="316.09" y="633.4">11</text>
<text class="a" x="343.67" y="633.4">12</text>
<text class="a" x="371.25" y="633.4">13</text>
<text class="a" x="398.83" y="633.4">14</text>
<text class="a" x="426.41" y="633.4">15</text>
<g fill="none" stroke="#000" stroke-linejoin="miter"><path d="M55.7 422.8L79.3 421.2L78.4 441.8L79.1 456.3L56.3 456.4Z" stroke-width="1.3"/></g>
<rect x="473.8" y="348" width="21.2" height="272" fill="#fff"/>
<rect x="494" y="619" width="412.9" height="18.8" fill="#fff"/>
<g>
<rect x="494" y="348" width="28.53" height="18" fill="#fdfb80"/>
<rect x="521.53" y="348" width="28.53" height="18" fill="#fdfb80"/>
<rect x="549.05" y="348" width="28.53" height="18" fill="#fdf27c"/>
<rect x="576.58" y="348" width="28.53" height="18" fill="#fdec62"/>
<rect x="604.11" y="348" width="28.53" height="18" fill="#fdec62"/>
<rect x="631.63" y="348" width="28.53" height="18" fill="#fde548"/>
<rect x="659.16" y="348" width="28.53" height="18" fill="#fde030"/>
<rect x="686.69" y="348" width="28.53" height="18" fill="#fde030"/>
<rect x="714.21" y="348" width="28.53" height="18" fill="#fdd520"/>
<rect x="741.74" y="348" width="28.53" height="18" fill="#fdd520"/>
<rect x="769.27" y="348" width="28.53" height="18" fill="#fdc830"/>
<rect x="796.79" y="348" width="28.53" height="18" fill="#fdc830"/>
<rect x="824.32" y="348" width="28.53" height="18" fill="#fdc830"/>
<rect x="851.85" y="348" width="28.53" height="18" fill="#fdbb00"/>
<rect x="879.37" y="348" width="27.53" height="18" fill="#fdbb00"/>
<rect x="494" y="366" width="28.53" height="18" fill="#fdfb80"/>
<rect x="521.53" y="366" width="28.53" height="18" fill="#fdfb80"/>
<rect x="549.05" y="366" width="28.53" height="18" fill="#fdf27c"/>
<rect x="576.58" y="366" width="28.53" height="18" fill="#fdf27c"/>
<rect x="604.11" y="366" width="28.53" height="18" fill="#fdec62"/>
<rect x="631.63" y="366" width="28.53" height="18" fill="#fde548"/>
<rect x="659.16" y="366" width="28.53" height="18" fill="#fde548"/>
<rect x="686.69" y="366" width="28.53" height="18" fill="#fde030"/>
<rect x="714.21" y="366" width="28.53" height="18" fill="#fde030"/>
<rect x="741.74" y="366" width="28.53" height="18" fill="#fdd520"/>
<rect x="769.27" y="366" width="28.53" height="18" fill="#fdd520"/>
<rect x="796.79" y="366" width="28.53" height="18" fill="#fdc830"/>
<rect x="824.32" y="366" width="28.53" height="18" fill="#fdc830"/>
<rect x="851.85" y="366" width="28.53" height="18" fill="#fdc830"/>
<rect x="879.37" y="366" width="27.53" height="18" fill="#fdbb00"/>
<rect x="494" y="384" width="28.53" height="18" fill="#fdfa9c"/>
<rect x="521.53" y="384" width="28.53" height="18" fill="#fdfb80"/>
<rect x="549.05" y="384" width="28.53" height="18" fill="#fdfb80"/>
<rect x="576.58" y="384" width="28.53" height="18" fill="#fdf27c"/>
<rect x="604.11" y="384" width="28.53" height="18" fill="#fdf27c"/>
<rect x="631.63" y="384" width="28.53" height="18" fill="#fdec62"/>
<rect x="659.16" y="384" width="28.53" height="18" fill="#fde548"/>
<rect x="686.69" y="384" width="28.53" height="18" fill="#fde548"/>
<rect x="714.21" y="384" width="28.53" height="18" fill="#fde030"/>
<rect x="741.74" y="384" width="28.53" height="18" fill="#fdd520"/>
<rect x="769.27" y="384" width="28.53" height="18" fill="#fdd520"/>
<rect x="796.79" y="384" width="28.53" height="18" fill="#fdc830"/>
<rect x="824.32" y="384" width="28.53" height="18" fill="#fdc830"/>
<rect x="851.85" y="384" width="28.53" height="18" fill="#fdc830"/>
<rect x="879.37" y="384" width="27.53" height="18" fill="#fdbb00"/>
<rect x="494" y="402" width="28.53" height="19" fill="#fdfa9c"/>
<rect x="521.53" y="402" width="28.53" height="19" fill="#fdfa9c"/>
<rect x="549.05" y="402" width="28.53" height="19" fill="#fdfb80"/>
<rect x="576.58" y="402" width="28.53" height="19" fill="#fdfb80"/>
<rect x="604.11" y="402" width="28.53" height="19" fill="#fdf27c"/>
<rect x="631.63" y="402" width="28.53" height="19" fill="#fdec62"/>
<rect x="659.16" y="402" width="28.53" height="19" fill="#fdec62"/>
<rect x="686.69" y="402" width="28.53" height="19" fill="#fde548"/>
<rect x="714.21" y="402" width="28.53" height="19" fill="#fde030"/>
<rect x="741.74" y="402" width="28.53" height="19" fill="#fde030"/>
<rect x="769.27" y="402" width="28.53" height="19" fill="#fdd520"/>
<rect x="796.79" y="402" width="28.53" height="19" fill="#fdd520"/>
<rect x="824.32" y="402" width="28.53" height="19" fill="#fdc830"/>
<rect x="851.85" y="402" width="28.53" height="19" fill="#fdc830"/>
<rect x="879.37" y="402" width="27.53" height="19" fill="#fdc830"/>
<rect x="494" y="421" width="28.53" height="18" fill="#fdfa9c"/>
<rect x="521.53" y="421" width="28.53" height="18" fill="#fdfa9c"/>
<rect x="549.05" y="421" width="28.53" height="18" fill="#fdfa9c"/>
<rect x="576.58" y="421" width="28.53" height="18" fill="#fdfb80"/>
<rect x="604.11" y="421" width="28.53" height="18" fill="#fdfb80"/>
<rect x="631.63" y="421" width="28.53" height="18" fill="#fdf27c"/>
<rect x="659.16" y="421" width="28.53" height="18" fill="#fdec62"/>
<rect x="686.69" y="421" width="28.53" height="18" fill="#fdec62"/>
<rect x="714.21" y="421" width="28.53" height="18" fill="#fde548"/>
<rect x="741.74" y="421" width="28.53" height="18" fill="#fde030"/>
<rect x="769.27" y="421" width="28.53" height="18" fill="#fde030"/>
<rect x="796.79" y="421" width="28.53" height="18" fill="#fdd520"/>
<rect x="824.32" y="421" width="28.53" height="18" fill="#fdd520"/>
<rect x="851.85" y="421" width="28.53" height="18" fill="#fdc830"/>
<rect x="879.37" y="421" width="27.53" height="18" fill="#fdc830"/>
<rect x="494" y="439" width="28.53" height="18" fill="#fdfa9c"/>
<rect x="521.53" y="439" width="28.53" height="18" fill="#fdfa9c"/>
<rect x="549.05" y="439" width="28.53" height="18" fill="#fdfa9c"/>
<rect x="576.58" y="439" width="28.53" height="18" fill="#fdfb80"/>
<rect x="604.11" y="439" width="28.53" height="18" fill="#fdfb80"/>
<rect x="631.63" y="439" width="28.53" height="18" fill="#fdf27c"/>
<rect x="659.16" y="439" width="28.53" height="18" fill="#fdf27c"/>
<rect x="686.69" y="439" width="28.53" height="18" fill="#fdec62"/>
<rect x="714.21" y="439" width="28.53" height="18" fill="#fde548"/>
<rect x="741.74" y="439" width="28.53" height="18" fill="#fde548"/>
<rect x="769.27" y="439" width="28.53" height="18" fill="#fde030"/>
<rect x="796.79" y="439" width="28.53" height="18" fill="#fde030"/>
<rect x="824.32" y="439" width="28.53" height="18" fill="#fdd520"/>
<rect x="851.85" y="439" width="28.53" height="18" fill="#fdd520"/>
<rect x="879.37" y="439" width="27.53" height="18" fill="#fdc830"/>
<rect x="494" y="457" width="28.53" height="18" fill="#fdf9c0"/>
<rect x="521.53" y="457" width="28.53" height="18" fill="#fdfa9c"/>
<rect x="549.05" y="457" width="28.53" height="18" fill="#fdfa9c"/>
<rect x="576.58" y="457" width="28.53" height="18" fill="#fdfa9c"/>
<rect x="604.11" y="457" width="28.53" height="18" fill="#fdfb80"/>
<rect x="631.63" y="457" width="28.53" height="18" fill="#fdfb80"/>
<rect x="659.16" y="457" width="28.53" height="18" fill="#fdf27c"/>
<rect x="686.69" y="457" width="28.53" height="18" fill="#fdf27c"/>
<rect x="714.21" y="457" width="28.53" height="18" fill="#fdec62"/>
<rect x="741.74" y="457" width="28.53" height="18" fill="#fde548"/>
<rect x="769.27" y="457" width="28.53" height="18" fill="#fde548"/>
<rect x="796.79" y="457" width="28.53" height="18" fill="#fde030"/>
<rect x="824.32" y="457" width="28.53" height="18" fill="#fdd520"/>
<rect x="851.85" y="457" width="28.53" height="18" fill="#fdd520"/>
<rect x="879.37" y="457" width="27.53" height="18" fill="#fdc830"/>
<rect x="494" y="475" width="28.53" height="18" fill="#fdf9c0"/>
<rect x="521.53" y="475" width="28.53" height="18" fill="#fdf9c0"/>
<rect x="549.05" y="475" width="28.53" height="18" fill="#fdfa9c"/>
<rect x="576.58" y="475" width="28.53" height="18" fill="#fdfa9c"/>
<rect x="604.11" y="475" width="28.53" height="18" fill="#fdfa9c"/>
<rect x="631.63" y="475" width="28.53" height="18" fill="#fdfb80"/>
<rect x="659.16" y="475" width="28.53" height="18" fill="#fdfb80"/>
<rect x="686.69" y="475" width="28.53" height="18" fill="#fdf27c"/>
<rect x="714.21" y="475" width="28.53" height="18" fill="#fdec62"/>
<rect x="741.74" y="475" width="28.53" height="18" fill="#fdec62"/>
<rect x="769.27" y="475" width="28.53" height="18" fill="#fde548"/>
<rect x="796.79" y="475" width="28.53" height="18" fill="#fde548"/>
<rect x="824.32" y="475" width="28.53" height="18" fill="#fde030"/>
<rect x="851.85" y="475" width="28.53" height="18" fill="#fdd520"/>
<rect x="879.37" y="475" width="27.53" height="18" fill="#fdd520"/>
<rect x="494" y="493" width="28.53" height="18" fill="#fdf9c0"/>
<rect x="521.53" y="493" width="28.53" height="18" fill="#fdf9c0"/>
<rect x="549.05" y="493" width="28.53" height="18" fill="#fdfa9c"/>
<rect x="576.58" y="493" width="28.53" height="18" fill="#fdfa9c"/>
<rect x="604.11" y="493" width="28.53" height="18" fill="#fdfa9c"/>
<rect x="631.63" y="493" width="28.53" height="18" fill="#fdfa9c"/>
<rect x="659.16" y="493" width="28.53" height="18" fill="#fdfb80"/>
<rect x="686.69" y="493" width="28.53" height="18" fill="#fdfb80"/>
<rect x="714.21" y="493" width="28.53" height="18" fill="#fdf27c"/>
<rect x="741.74" y="493" width="28.53" height="18" fill="#fdec62"/>
<rect x="769.27" y="493" width="28.53" height="18" fill="#fdec62"/>
<rect x="796.79" y="493" width="28.53" height="18" fill="#fde548"/>
<rect x="824.32" y="493" width="28.53" height="18" fill="#fde030"/>
<rect x="851.85" y="493" width="28.53" height="18" fill="#fde030"/>
<rect x="879.37" y="493" width="27.53" height="18" fill="#fdd520"/>
<rect x="494" y="511" width="28.53" height="18" fill="#fdf9c0"/>
<rect x="521.53" y="511" width="28.53" height="18" fill="#fdf9c0"/>
<rect x="549.05" y="511" width="28.53" height="18" fill="#fdf9c0"/>
<rect x="576.58" y="511" width="28.53" height="18" fill="#fdfa9c"/>
<rect x="604.11" y="511" width="28.53" height="18" fill="#fdfa9c"/>
<rect x="631.63" y="511" width="28.53" height="18" fill="#fdfa9c"/>
<rect x="659.16" y="511" width="28.53" height="18" fill="#fdfb80"/>
<rect x="686.69" y="511" width="28.53" height="18" fill="#fdfb80"/>
<rect x="714.21" y="511" width="28.53" height="18" fill="#fdf27c"/>
<rect x="741.74" y="511" width="28.53" height="18" fill="#fdf27c"/>
<rect x="769.27" y="511" width="28.53" height="18" fill="#fdec62"/>
<rect x="796.79" y="511" width="28.53" height="18" fill="#fdec62"/>
<rect x="824.32" y="511" width="28.53" height="18" fill="#fde548"/>
<rect x="851.85" y="511" width="28.53" height="18" fill="#fde030"/>
<rect x="879.37" y="511" width="27.53" height="18" fill="#fde030"/>
<rect x="494" y="529" width="28.53" height="18" fill="#fdf9c0"/>
<rect x="521.53" y="529" width="28.53" height="18" fill="#fdf9c0"/>
<rect x="549.05" y="529" width="28.53" height="18" fill="#fdf9c0"/>
<rect x="576.58" y="529" width="28.53" height="18" fill="#fdf9c0"/>
<rect x="604.11" y="529" width="28.53" height="18" fill="#fdfa9c"/>
<rect x="631.63" y="529" width="28.53" height="18" fill="#fdfa9c"/>
<rect x="659.16" y="529" width="28.53" height="18" fill="#fdfa9c"/>
<rect x="686.69" y="529" width="28.53" height="18" fill="#fdfb80"/>
<rect x="714.21" y="529" width="28.53" height="18" fill="#fdfb80"/>
<rect x="741.74" y="529" width="28.53" height="18" fill="#fdf27c"/>
<rect x="769.27" y="529" width="28.53" height="18" fill="#fdf27c"/>
<rect x="796.79" y="529" width="28.53" height="18" fill="#fdec62"/>
<rect x="824.32" y="529" width="28.53" height="18" fill="#fde548"/>
<rect x="851.85" y="529" width="28.53" height="18" fill="#fde548"/>
<rect x="879.37" y="529" width="27.53" height="18" fill="#fde030"/>
<rect x="494" y="547" width="28.53" height="18" fill="#fdf9c0"/>
<rect x="521.53" y="547" width="28.53" height="18" fill="#fdf9c0"/>
<rect x="549.05" y="547" width="28.53" height="18" fill="#fdf9c0"/>
<rect x="576.58" y="547" width="28.53" height="18" fill="#fdf9c0"/>
<rect x="604.11" y="547" width="28.53" height="18" fill="#fdf9c0"/>
<rect x="631.63" y="547" width="28.53" height="18" fill="#fdfa9c"/>
<rect x="659.16" y="547" width="28.53" height="18" fill="#fdfa9c"/>
<rect x="686.69" y="547" width="28.53" height="18" fill="#fdfa9c"/>
<rect x="714.21" y="547" width="28.53" height="18" fill="#fdfb80"/>
<rect x="741.74" y="547" width="28.53" height="18" fill="#fdfb80"/>
<rect x="769.27" y="547" width="28.53" height="18" fill="#fdf27c"/>
<rect x="796.79" y="547" width="28.53" height="18" fill="#fdf27c"/>
<rect x="824.32" y="547" width="28.53" height="18" fill="#fdec62"/>
<rect x="851.85" y="547" width="28.53" height="18" fill="#fde548"/>
<rect x="879.37" y="547" width="27.53" height="18" fill="#fde548"/>
<rect x="494" y="565" width="28.53" height="19" fill="#fdf9c0"/>
<rect x="521.53" y="565" width="28.53" height="19" fill="#fdf9c0"/>
<rect x="549.05" y="565" width="28.53" height="19" fill="#fdf9c0"/>
<rect x="576.58" y="565" width="28.53" height="19" fill="#fdf9c0"/>
<rect x="604.11" y="565" width="28.53" height="19" fill="#fdf9c0"/>
<rect x="631.63" y="565" width="28.53" height="19" fill="#fdfa9c"/>
<rect x="659.16" y="565" width="28.53" height="19" fill="#fdfa9c"/>
<rect x="686.69" y="565" width="28.53" height="19" fill="#fdfa9c"/>
<rect x="714.21" y="565" width="28.53" height="19" fill="#fdfa9c"/>
<rect x="741.74" y="565" width="28.53" height="19" fill="#fdfb80"/>
<rect x="769.27" y="565" width="28.53" height="19" fill="#fdfb80"/>
<rect x="796.79" y="565" width="28.53" height="19" fill="#fdf27c"/>
<rect x="824.32" y="565" width="28.53" height="19" fill="#fdec62"/>
<rect x="851.85" y="565" width="28.53" height="19" fill="#fdec62"/>
<rect x="879.37" y="565" width="27.53" height="19" fill="#fde548"/>
<rect x="494" y="584" width="28.53" height="18" fill="#fdf9c0"/>
<rect x="521.53" y="584" width="28.53" height="18" fill="#fdf9c0"/>
<rect x="549.05" y="584" width="28.53" height="18" fill="#fdf9c0"/>
<rect x="576.58" y="584" width="28.53" height="18" fill="#fdf9c0"/>
<rect x="604.11" y="584" width="28.53" height="18" fill="#fdf9c0"/>
<rect x="631.63" y="584" width="28.53" height="18" fill="#fdf9c0"/>
<rect x="659.16" y="584" width="28.53" height="18" fill="#fdfa9c"/>
<rect x="686.69" y="584" width="28.53" height="18" fill="#fdfa9c"/>
<rect x="714.21" y="584" width="28.53" height="18" fill="#fdfa9c"/>
<rect x="741.74" y="584" width="28.53" height="18" fill="#fdfb80"/>
<rect x="769.27" y="584" width="28.53" height="18" fill="#fdfb80"/>
<rect x="796.79" y="584" width="28.53" height="18" fill="#fdf27c"/>
<rect x="824.32" y="584" width="28.53" height="18" fill="#fdf27c"/>
<rect x="851.85" y="584" width="28.53" height="18" fill="#fdec62"/>
<rect x="879.37" y="584" width="27.53" height="18" fill="#fdec62"/>
<rect x="494" y="602" width="28.53" height="18" fill="#fdf9c0"/>
<rect x="521.53" y="602" width="28.53" height="18" fill="#fdf9c0"/>
<rect x="549.05" y="602" width="28.53" height="18" fill="#fdf9c0"/>
<rect x="576.58" y="602" width="28.53" height="18" fill="#fdf9c0"/>
<rect x="604.11" y="602" width="28.53" height="18" fill="#fdf9c0"/>
<rect x="631.63" y="602" width="28.53" height="18" fill="#fdf9c0"/>
<rect x="659.16" y="602" width="28.53" height="18" fill="#fdf9c0"/>
<rect x="686.69" y="602" width="28.53" height="18" fill="#fdfa9c"/>
<rect x="714.21" y="602" width="28.53" height="18" fill="#fdfa9c"/>
<rect x="741.74" y="602" width="28.53" height="18" fill="#fdfa9c"/>
<rect x="769.27" y="602" width="28.53" height="18" fill="#fdfb80"/>
<rect x="796.79" y="602" width="28.53" height="18" fill="#fdfb80"/>
<rect x="824.32" y="602" width="28.53" height="18" fill="#fdf27c"/>
<rect x="851.85" y="602" width="28.53" height="18" fill="#fdf27c"/>
<rect x="879.37" y="602" width="27.53" height="18" fill="#fdec62"/>
</g>
<text class="a" x="483.7" y="361.45">15</text>
<text class="n" x="505.56" y="361.75">24</text>
<text class="n" x="533.09" y="361.75">29</text>
<text class="n" x="562.82" y="361.75">35</text>
<text class="n" x="590.34" y="361.75">42</text>
<text class="n" x="617.87" y="361.75">48</text>
<text class="n" x="645.4" y="361.75">55</text>
<text class="n" x="672.92" y="361.75">61</text>
<text class="n" x="700.45" y="361.75">68</text>
<text class="n" x="727.98" y="361.75">73</text>
<text class="n" x="755.5" y="361.75">78</text>
<text class="n" x="783.03" y="361.75">82</text>
<text class="n" x="810.56" y="361.75">86</text>
<text class="n" x="838.08" y="361.75">89</text>
<text class="n" x="865.61" y="361.75">91</text>
<text class="n" x="893.14" y="361.75">93</text>
<text class="a" x="483.7" y="379.55">20</text>
<text class="n" x="505.56" y="379.85">21</text>
<text class="n" x="533.09" y="379.85">25</text>
<text class="n" x="562.82" y="379.85">31</text>
<text class="n" x="590.34" y="379.85">37</text>
<text class="n" x="617.87" y="379.85">43</text>
<text class="n" x="645.4" y="379.85">50</text>
<text class="n" x="672.92" y="379.85">57</text>
<text class="n" x="700.45" y="379.85">63</text>
<text class="n" x="727.98" y="379.85">69</text>
<text class="n" x="755.5" y="379.85">74</text>
<text class="n" x="783.03" y="379.85">79</text>
<text class="n" x="810.56" y="379.85">83</text>
<text class="n" x="838.08" y="379.85">87</text>
<text class="n" x="865.61" y="379.85">89</text>
<text class="n" x="893.14" y="379.85">92</text>
<text class="a" x="483.7" y="397.65">25</text>
<text class="n" x="505.56" y="397.95">18</text>
<text class="n" x="533.09" y="397.95">22</text>
<text class="n" x="562.82" y="397.95">27</text>
<text class="n" x="590.34" y="397.95">32</text>
<text class="n" x="617.87" y="397.95">38</text>
<text class="n" x="645.4" y="397.95">45</text>
<text class="n" x="672.92" y="397.95">51</text>
<text class="n" x="700.45" y="397.95">58</text>
<text class="n" x="727.98" y="397.95">64</text>
<text class="n" x="755.5" y="397.95">70</text>
<text class="n" x="783.03" y="397.95">76</text>
<text class="n" x="810.56" y="397.95">80</text>
<text class="n" x="838.08" y="397.95">84</text>
<text class="n" x="865.61" y="397.95">87</text>
<text class="n" x="893.14" y="397.95">90</text>
<text class="a" x="483.7" y="415.75">30</text>
<text class="n" x="505.56" y="416.05">15</text>
<text class="n" x="533.09" y="416.05">18</text>
<text class="n" x="562.82" y="416.05">23</text>
<text class="n" x="590.34" y="416.05">28</text>
<text class="n" x="617.87" y="416.05">34</text>
<text class="n" x="645.4" y="416.05">40</text>
<text class="n" x="672.92" y="416.05">46</text>
<text class="n" x="700.45" y="416.05">53</text>
<text class="n" x="727.98" y="416.05">60</text>
<text class="n" x="755.5" y="416.05">66</text>
<text class="n" x="783.03" y="416.05">72</text>
<text class="n" x="810.56" y="416.05">77</text>
<text class="n" x="838.08" y="416.05">81</text>
<text class="n" x="865.61" y="416.05">85</text>
<text class="n" x="893.14" y="416.05">88</text>
<text class="a" x="483.7" y="433.85">35</text>
<text class="n" x="505.56" y="434.15">12</text>
<text class="n" x="533.09" y="434.15">16</text>
<text class="n" x="562.82" y="434.15">19</text>
<text class="n" x="590.34" y="434.15">24</text>
<text class="n" x="617.87" y="434.15">29</text>
<text class="n" x="645.4" y="434.15">35</text>
<text class="n" x="672.92" y="434.15">41</text>
<text class="n" x="700.45" y="434.15">48</text>
<text class="n" x="727.98" y="434.15">55</text>
<text class="n" x="755.5" y="434.15">61</text>
<text class="n" x="783.03" y="434.15">67</text>
<text class="n" x="810.56" y="434.15">73</text>
<text class="n" x="838.08" y="434.15">78</text>
<text class="n" x="865.61" y="434.15">82</text>
<text class="n" x="893.14" y="434.15">86</text>
<text class="a" x="483.7" y="451.95">40</text>
<text class="n" x="505.56" y="452.25">10</text>
<text class="n" x="533.09" y="452.25">13</text>
<text class="n" x="562.82" y="452.25">16</text>
<text class="n" x="590.34" y="452.25">21</text>
<text class="n" x="617.87" y="452.25">25</text>
<text class="n" x="645.4" y="452.25">31</text>
<text class="n" x="672.92" y="452.25">37</text>
<text class="n" x="700.45" y="452.25">43</text>
<text class="n" x="727.98" y="452.25">50</text>
<text class="n" x="755.5" y="452.25">56</text>
<text class="n" x="783.03" y="452.25">63</text>
<text class="n" x="810.56" y="452.25">69</text>
<text class="n" x="838.08" y="452.25">74</text>
<text class="n" x="865.61" y="452.25">79</text>
<text class="n" x="893.14" y="452.25">83</text>
<text class="a" x="483.7" y="470.05">45</text>
<text class="n" x="505.56" y="470.35">9</text>
<text class="n" x="533.09" y="470.35">11</text>
<text class="n" x="562.82" y="470.35">14</text>
<text class="n" x="590.34" y="470.35">17</text>
<text class="n" x="617.87" y="470.35">22</text>
<text class="n" x="645.4" y="470.35">26</text>
<text class="n" x="672.92" y="470.35">32</text>
<text class="n" x="700.45" y="470.35">38</text>
<text class="n" x="727.98" y="470.35">45</text>
<text class="n" x="755.5" y="470.35">51</text>
<text class="n" x="783.03" y="470.35">58</text>
<text class="n" x="810.56" y="470.35">64</text>
<text class="n" x="838.08" y="470.35">70</text>
<text class="n" x="865.61" y="470.35">75</text>
<text class="n" x="893.14" y="470.35">80</text>
<text class="a" x="483.7" y="488.15">50</text>
<text class="n" x="505.56" y="488.45">7</text>
<text class="n" x="533.09" y="488.45">9</text>
<text class="n" x="562.82" y="488.45">12</text>
<text class="n" x="590.34" y="488.45">15</text>
<text class="n" x="617.87" y="488.45">18</text>
<text class="n" x="645.4" y="488.45">23</text>
<text class="n" x="672.92" y="488.45">28</text>
<text class="n" x="700.45" y="488.45">33</text>
<text class="n" x="727.98" y="488.45">40</text>
<text class="n" x="755.5" y="488.45">46</text>
<text class="n" x="783.03" y="488.45">53</text>
<text class="n" x="810.56" y="488.45">59</text>
<text class="n" x="838.08" y="488.45">66</text>
<text class="n" x="865.61" y="488.45">71</text>
<text class="n" x="893.14" y="488.45">77</text>
<text class="a" x="483.7" y="506.25">55</text>
<text class="n" x="505.56" y="506.55">6</text>
<text class="n" x="533.09" y="506.55">8</text>
<text class="n" x="562.82" y="506.55">10</text>
<text class="n" x="590.34" y="506.55">12</text>
<text class="n" x="617.87" y="506.55">16</text>
<text class="n" x="645.4" y="506.55">19</text>
<text class="n" x="672.92" y="506.55">24</text>
<text class="n" x="700.45" y="506.55">29</text>
<text class="n" x="727.98" y="506.55">35</text>
<text class="n" x="755.5" y="506.55">41</text>
<text class="n" x="783.03" y="506.55">48</text>
<text class="n" x="810.56" y="506.55">54</text>
<text class="n" x="838.08" y="506.55">61</text>
<text class="n" x="865.61" y="506.55">67</text>
<text class="n" x="893.14" y="506.55">73</text>
<text class="a" x="483.7" y="524.35">60</text>
<text class="n" x="505.56" y="524.65">5</text>
<text class="n" x="533.09" y="524.65">6</text>
<text class="n" x="562.82" y="524.65">8</text>
<text class="n" x="590.34" y="524.65">10</text>
<text class="n" x="617.87" y="524.65">13</text>
<text class="n" x="645.4" y="524.65">16</text>
<text class="n" x="672.92" y="524.65">20</text>
<text class="n" x="700.45" y="524.65">25</text>
<text class="n" x="727.98" y="524.65">30</text>
<text class="n" x="755.5" y="524.65">36</text>
<text class="n" x="783.03" y="524.65">43</text>
<text class="n" x="810.56" y="524.65">49</text>
<text class="n" x="838.08" y="524.65">56</text>
<text class="n" x="865.61" y="524.65">63</text>
<text class="n" x="893.14" y="524.65">69</text>
<text class="a" x="483.7" y="542.45">65</text>
<text class="n" x="505.56" y="542.75">4</text>
<text class="n" x="533.09" y="542.75">5</text>
<text class="n" x="562.82" y="542.75">7</text>
<text class="n" x="590.34" y="542.75">9</text>
<text class="n" x="617.87" y="542.75">11</text>
<text class="n" x="645.4" y="542.75">14</text>
<text class="n" x="672.92" y="542.75">17</text>
<text class="n" x="700.45" y="542.75">21</text>
<text class="n" x="727.98" y="542.75">26</text>
<text class="n" x="755.5" y="542.75">32</text>
<text class="n" x="783.03" y="542.75">38</text>
<text class="n" x="810.56" y="542.75">44</text>
<text class="n" x="838.08" y="542.75">51</text>
<text class="n" x="865.61" y="542.75">58</text>
<text class="n" x="893.14" y="542.75">64</text>
<text class="a" x="483.7" y="560.55">70</text>
<text class="n" x="505.56" y="560.85">3</text>
<text class="n" x="533.09" y="560.85">4</text>
<text class="n" x="562.82" y="560.85">6</text>
<text class="n" x="590.34" y="560.85">7</text>
<text class="n" x="617.87" y="560.85">9</text>
<text class="n" x="645.4" y="560.85">12</text>
<text class="n" x="672.92" y="560.85">15</text>
<text class="n" x="700.45" y="560.85">18</text>
<text class="n" x="727.98" y="560.85">23</text>
<text class="n" x="755.5" y="560.85">28</text>
<text class="n" x="783.03" y="560.85">33</text>
<text class="n" x="810.56" y="560.85">39</text>
<text class="n" x="838.08" y="560.85">46</text>
<text class="n" x="865.61" y="560.85">53</text>
<text class="n" x="893.14" y="560.85">59</text>
<text class="a" x="483.7" y="578.65">75</text>
<text class="n" x="505.56" y="578.95">3</text>
<text class="n" x="533.09" y="578.95">4</text>
<text class="n" x="562.82" y="578.95">5</text>
<text class="n" x="590.34" y="578.95">6</text>
<text class="n" x="617.87" y="578.95">8</text>
<text class="n" x="645.4" y="578.95">10</text>
<text class="n" x="672.92" y="578.95">12</text>
<text class="n" x="700.45" y="578.95">15</text>
<text class="n" x="727.98" y="578.95">19</text>
<text class="n" x="755.5" y="578.95">24</text>
<text class="n" x="783.03" y="578.95">29</text>
<text class="n" x="810.56" y="578.95">35</text>
<text class="n" x="838.08" y="578.95">41</text>
<text class="n" x="865.61" y="578.95">48</text>
<text class="n" x="893.14" y="578.95">54</text>
<text class="a" x="483.7" y="596.75">80</text>
<text class="n" x="505.56" y="597.05">2</text>
<text class="n" x="533.09" y="597.05">3</text>
<text class="n" x="562.82" y="597.05">4</text>
<text class="n" x="590.34" y="597.05">5</text>
<text class="n" x="617.87" y="597.05">6</text>
<text class="n" x="645.4" y="597.05">8</text>
<text class="n" x="672.92" y="597.05">10</text>
<text class="n" x="700.45" y="597.05">13</text>
<text class="n" x="727.98" y="597.05">16</text>
<text class="n" x="755.5" y="597.05">20</text>
<text class="n" x="783.03" y="597.05">25</text>
<text class="n" x="810.56" y="597.05">30</text>
<text class="n" x="838.08" y="597.05">36</text>
<text class="n" x="865.61" y="597.05">43</text>
<text class="n" x="893.14" y="597.05">49</text>
<text class="a" x="483.7" y="614.85">85</text>
<text class="n" x="505.56" y="615.15">2</text>
<text class="n" x="533.09" y="615.15">2</text>
<text class="n" x="562.82" y="615.15">3</text>
<text class="n" x="590.34" y="615.15">4</text>
<text class="n" x="617.87" y="615.15">5</text>
<text class="n" x="645.4" y="615.15">7</text>
<text class="n" x="672.92" y="615.15">8</text>
<text class="n" x="700.45" y="615.15">11</text>
<text class="n" x="727.98" y="615.15">14</text>
<text class="n" x="755.5" y="615.15">17</text>
<text class="n" x="783.03" y="615.15">21</text>
<text class="n" x="810.56" y="615.15">26</text>
<text class="n" x="838.08" y="615.15">32</text>
<text class="n" x="865.61" y="615.15">38</text>
<text class="n" x="893.14" y="615.15">44</text>
<text class="a" x="507.76" y="633.4">1</text>
<text class="a" x="535.29" y="633.4">2</text>
<text class="a" x="562.82" y="633.4">3</text>
<text class="a" x="590.34" y="633.4">4</text>
<text class="a" x="617.87" y="633.4">5</text>
<text class="a" x="645.4" y="633.4">6</text>
<text class="a" x="672.92" y="633.4">7</text>
<text class="a" x="700.45" y="633.4">8</text>
<text class="a" x="727.98" y="633.4">9</text>
<text class="a" x="755.5" y="633.4">10</text>
<text class="a" x="783.03" y="633.4">11</text>
<text class="a" x="810.56" y="633.4">12</text>
<text class="a" x="838.08" y="633.4">13</text>
<text class="a" x="865.61" y="633.4">14</text>
<text class="a" x="893.14" y="633.4">15</text>
<g fill="none" stroke="#000" stroke-linejoin="miter"><path d="M522 421L547.3 421.8L546.9 434.4L546 454.6L520.6 456Z" stroke-width="1.35"/></g>
<text class="t" x="204.3" y="27" textLength="44" lengthAdjust="spacingAndGlyphs">One</text>
<text class="t" x="627.6" y="27" textLength="44.4" lengthAdjust="spacingAndGlyphs">Two</text>
<text class="t" x="677" y="27" textLength="22.7" lengthAdjust="spacingAndGlyphs">or</text>
<text class="t" x="705.6" y="27" textLength="56.4" lengthAdjust="spacingAndGlyphs">More</text>
<text class="t" x="160.6" y="662.9" textLength="62.8" lengthAdjust="spacingAndGlyphs">GCS-P</text>
<text class="t" x="228.2" y="662.9" textLength="58.8" lengthAdjust="spacingAndGlyphs">Score</text>
<text class="t" x="627.7" y="662.9" textLength="62.8" lengthAdjust="spacingAndGlyphs">GCS-P</text>
<text class="t" x="695.3" y="662.9" textLength="58.8" lengthAdjust="spacingAndGlyphs">Score</text>
</svg></body></html>
